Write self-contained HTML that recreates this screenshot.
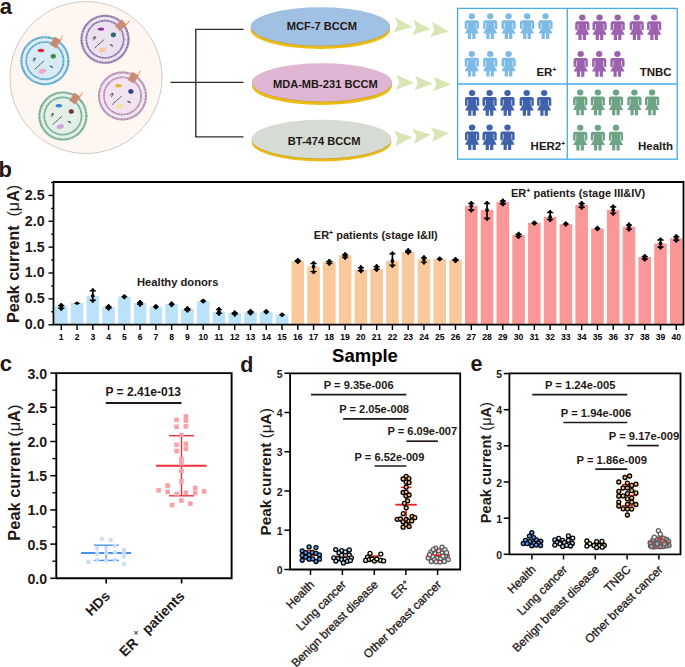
<!DOCTYPE html>
<html><head><meta charset="utf-8"><style>
html,body{margin:0;padding:0;background:#fff;}
svg{display:block;font-family:"Liberation Sans", sans-serif;}
</style></head><body>
<svg width="685" height="667" viewBox="0 0 685 667">
<rect width="685" height="667" fill="#fff"/>
<text x="-0.3" y="13.7" font-size="22" font-weight="bold" text-anchor="start" fill="#231815" >a</text>
<circle cx="86" cy="77.5" r="76" fill="#fdf6f1" stroke="#b3a7a2" stroke-width="0.6"/>
<g transform="translate(44.9,60.7)"><circle r="23.4" fill="#fbfbfb"/><circle r="21" fill="none" stroke="#bcd9e8" stroke-width="3.6" stroke-dasharray="0.5 0.7"/><circle r="23.5" fill="none" stroke="#4fa2c9" stroke-width="2.1" stroke-dasharray="1.3 0.25"/><circle r="18.5" fill="none" stroke="#4fa2c9" stroke-width="2.0" stroke-dasharray="1.3 0.25"/><circle r="17.6" fill="#d6ebf4"/><g transform="rotate(0)"><g transform="translate(10.6,-18.2) rotate(30)"><rect x="-3.7" y="-4.7" width="7.4" height="9.4" fill="#dc9e84"/><path d="M-3.7,-3 L3.7,-3 M-3.7,-1 L3.7,-1 M-3.7,1 L3.7,1 M-3.7,3 L3.7,3" stroke="#a86a56" stroke-width="0.5"/><path d="M-2,-4.7 L-2,4.7 M0,-4.7 L0,4.7 M2,-4.7 L2,4.7" stroke="#b07462" stroke-width="0.5"/></g><path d="M14.8,-20.5 q2.2,-0.3 1.8,-1.8 q-0.4,-1.2 0.8,-1.6 q0.6,-0.4 0.1,-1.2" fill="none" stroke="#ee7a3a" stroke-width="0.85"/></g><ellipse cx="-4" cy="-10.2" rx="3.3" ry="1.7" fill="#d0283c"/><path d="M5.8,-5.8 l2.6,-1.2 2.4,1.0 0.2,2.8 -2.4,1.3 -2.6,-1.0z" fill="#3a8a44"/><ellipse cx="-2.6" cy="10.6" rx="3.7" ry="2.3" fill="#f0a6c8" transform="rotate(-15 -2.6 10.6)"/><path d="M-12.5,-0.5 l2.2,-2.2 1.4,1.1 M-10.3,-2.7 l0.2,2.5 M-11.5,0.5 l1.2,-0.3" fill="none" stroke="#3a3a3a" stroke-width="0.85"/><path d="M-10.2,8.6 L-0.8,0.2" stroke="#3a3a3a" stroke-width="0.95" stroke-dasharray="1.6 0.35"/><path d="M4.8,5.2 l3.4,1.8 M6,6.2 l1.2,-0.8" stroke="#333" stroke-width="0.9"/></g>
<g transform="translate(105.0,39.3)"><circle r="23.4" fill="#fbfbfb"/><circle r="21" fill="none" stroke="#d3c6dc" stroke-width="3.6" stroke-dasharray="0.5 0.7"/><circle r="23.5" fill="none" stroke="#8a6aa6" stroke-width="2.1" stroke-dasharray="1.3 0.25"/><circle r="18.5" fill="none" stroke="#8a6aa6" stroke-width="2.0" stroke-dasharray="1.3 0.25"/><circle r="17.6" fill="#ebe1ef"/><g transform="rotate(18)"><g transform="translate(10.6,-18.2) rotate(30)"><rect x="-3.7" y="-4.7" width="7.4" height="9.4" fill="#dc9e84"/><path d="M-3.7,-3 L3.7,-3 M-3.7,-1 L3.7,-1 M-3.7,1 L3.7,1 M-3.7,3 L3.7,3" stroke="#a86a56" stroke-width="0.5"/><path d="M-2,-4.7 L-2,4.7 M0,-4.7 L0,4.7 M2,-4.7 L2,4.7" stroke="#b07462" stroke-width="0.5"/></g><path d="M14.8,-20.5 q2.2,-0.3 1.8,-1.8 q-0.4,-1.2 0.8,-1.6 q0.6,-0.4 0.1,-1.2" fill="none" stroke="#ee7a3a" stroke-width="0.85"/></g><ellipse cx="-4" cy="-10.2" rx="3.3" ry="1.7" fill="#8a3aa0"/><path d="M5.8,-5.8 l2.6,-1.2 2.4,1.0 0.2,2.8 -2.4,1.3 -2.6,-1.0z" fill="#2d6a7a"/><ellipse cx="-2.6" cy="10.6" rx="3.7" ry="2.3" fill="#f7c8a4" transform="rotate(-15 -2.6 10.6)"/><path d="M-12.5,-0.5 l2.2,-2.2 1.4,1.1 M-10.3,-2.7 l0.2,2.5 M-11.5,0.5 l1.2,-0.3" fill="none" stroke="#3a3a3a" stroke-width="0.85"/><path d="M-10.2,8.6 L-0.8,0.2" stroke="#3a3a3a" stroke-width="0.95" stroke-dasharray="1.6 0.35"/><path d="M4.8,5.2 l3.4,1.8 M6,6.2 l1.2,-0.8" stroke="#333" stroke-width="0.9"/></g>
<g transform="translate(122.5,95.9)"><circle r="23.4" fill="#fbfbfb"/><circle r="21" fill="none" stroke="#e0cce0" stroke-width="3.6" stroke-dasharray="0.5 0.7"/><circle r="23.5" fill="none" stroke="#b387b2" stroke-width="2.1" stroke-dasharray="1.3 0.25"/><circle r="18.5" fill="none" stroke="#b387b2" stroke-width="2.0" stroke-dasharray="1.3 0.25"/><circle r="17.6" fill="#f1e3ef"/><g transform="rotate(0)"><g transform="translate(10.6,-18.2) rotate(30)"><rect x="-3.7" y="-4.7" width="7.4" height="9.4" fill="#dc9e84"/><path d="M-3.7,-3 L3.7,-3 M-3.7,-1 L3.7,-1 M-3.7,1 L3.7,1 M-3.7,3 L3.7,3" stroke="#a86a56" stroke-width="0.5"/><path d="M-2,-4.7 L-2,4.7 M0,-4.7 L0,4.7 M2,-4.7 L2,4.7" stroke="#b07462" stroke-width="0.5"/></g><path d="M14.8,-20.5 q2.2,-0.3 1.8,-1.8 q-0.4,-1.2 0.8,-1.6 q0.6,-0.4 0.1,-1.2" fill="none" stroke="#ee7a3a" stroke-width="0.85"/></g><ellipse cx="-4" cy="-10.2" rx="3.3" ry="1.7" fill="#e0b830"/><path d="M5.8,-5.8 l2.6,-1.2 2.4,1.0 0.2,2.8 -2.4,1.3 -2.6,-1.0z" fill="#3a3f8a"/><ellipse cx="-2.6" cy="10.6" rx="3.7" ry="2.3" fill="#f3e39a" transform="rotate(-15 -2.6 10.6)"/><path d="M-12.5,-0.5 l2.2,-2.2 1.4,1.1 M-10.3,-2.7 l0.2,2.5 M-11.5,0.5 l1.2,-0.3" fill="none" stroke="#3a3a3a" stroke-width="0.85"/><path d="M-10.2,8.6 L-0.8,0.2" stroke="#3a3a3a" stroke-width="0.95" stroke-dasharray="1.6 0.35"/><path d="M4.8,5.2 l3.4,1.8 M6,6.2 l1.2,-0.8" stroke="#333" stroke-width="0.9"/></g>
<g transform="translate(62.9,116.0)"><circle r="23.4" fill="#fbfbfb"/><circle r="21" fill="none" stroke="#c6e0d2" stroke-width="3.6" stroke-dasharray="0.5 0.7"/><circle r="23.5" fill="none" stroke="#6aa88a" stroke-width="2.1" stroke-dasharray="1.3 0.25"/><circle r="18.5" fill="none" stroke="#6aa88a" stroke-width="2.0" stroke-dasharray="1.3 0.25"/><circle r="17.6" fill="#e2f0e8"/><g transform="rotate(4)"><g transform="translate(10.6,-18.2) rotate(30)"><rect x="-3.7" y="-4.7" width="7.4" height="9.4" fill="#dc9e84"/><path d="M-3.7,-3 L3.7,-3 M-3.7,-1 L3.7,-1 M-3.7,1 L3.7,1 M-3.7,3 L3.7,3" stroke="#a86a56" stroke-width="0.5"/><path d="M-2,-4.7 L-2,4.7 M0,-4.7 L0,4.7 M2,-4.7 L2,4.7" stroke="#b07462" stroke-width="0.5"/></g><path d="M14.8,-20.5 q2.2,-0.3 1.8,-1.8 q-0.4,-1.2 0.8,-1.6 q0.6,-0.4 0.1,-1.2" fill="none" stroke="#ee7a3a" stroke-width="0.85"/></g><ellipse cx="-4" cy="-10.2" rx="3.3" ry="1.7" fill="#3a84d0"/><path d="M5.8,-5.8 l2.6,-1.2 2.4,1.0 0.2,2.8 -2.4,1.3 -2.6,-1.0z" fill="#6a4030"/><ellipse cx="-2.6" cy="10.6" rx="3.7" ry="2.3" fill="#c8a8de" transform="rotate(-15 -2.6 10.6)"/><path d="M-12.5,-0.5 l2.2,-2.2 1.4,1.1 M-10.3,-2.7 l0.2,2.5 M-11.5,0.5 l1.2,-0.3" fill="none" stroke="#3a3a3a" stroke-width="0.85"/><path d="M-10.2,8.6 L-0.8,0.2" stroke="#3a3a3a" stroke-width="0.95" stroke-dasharray="1.6 0.35"/><path d="M4.8,5.2 l3.4,1.8 M6,6.2 l1.2,-0.8" stroke="#333" stroke-width="0.9"/></g>
<line x1="170.5" y1="82.3" x2="243.5" y2="82.3" stroke="#33272a" stroke-width="1.35" />
<line x1="195.8" y1="29.4" x2="195.8" y2="136.9" stroke="#33272a" stroke-width="1.35" />
<line x1="195.15" y1="29.4" x2="243.5" y2="29.4" stroke="#33272a" stroke-width="1.35" />
<line x1="195.15" y1="136.9" x2="243.5" y2="136.9" stroke="#33272a" stroke-width="1.35" />
<ellipse cx="320.4" cy="29.70" rx="69.7" ry="19.2" fill="#ecbc14"/>
<ellipse cx="320.4" cy="27.20" rx="69.7" ry="19.2" fill="#c9a032"/>
<ellipse cx="320.4" cy="26.5" rx="69.7" ry="19.2" fill="#a0c0e4"/>
<text x="322" y="29.8" font-size="11.1" font-weight="bold" text-anchor="middle" fill="#231815" >MCF-7 BCCM</text>
<ellipse cx="322" cy="85.85" rx="69.9" ry="19.05" fill="#ecbc14"/>
<ellipse cx="322" cy="83.05" rx="69.9" ry="19.05" fill="#c9a032"/>
<ellipse cx="322" cy="82.35" rx="69.9" ry="19.05" fill="#deb6d4"/>
<text x="325.3" y="87.6" font-size="11.1" font-weight="bold" text-anchor="middle" fill="#231815" >MDA-MB-231 BCCM</text>
<ellipse cx="321.5" cy="142.15" rx="69.8" ry="19.35" fill="#ecbc14"/>
<ellipse cx="321.5" cy="139.85" rx="69.8" ry="19.35" fill="#c9a032"/>
<ellipse cx="321.5" cy="139.15" rx="69.8" ry="19.35" fill="#d6dcd4"/>
<text x="324.1" y="144.6" font-size="11.1" font-weight="bold" text-anchor="middle" fill="#231815" >BT-474 BCCM</text>
<path d="M395.3,17.6 L412.1,26.9 L393.4,32.4 L397.5,25.3 Z" fill="#d7e6b4"/>
<path d="M413.6,19.9 L430.8,29.3 L412.1,34.8 L416.1,27.7 Z" fill="#d7e6b4"/>
<path d="M432,21.7 L449,31.6 L430.3,37.1 L434.4,29.8 Z" fill="#d7e6b4"/>
<path d="M396.7,74.9 L414.2,82.8 L395.7,89.8 L399.4,82.4 Z" fill="#d7e6b4"/>
<path d="M415.1,75.7 L432.7,83.7 L414.2,90.5 L417.9,83.2 Z" fill="#d7e6b4"/>
<path d="M433.5,76.4 L451,84.6 L432.9,91.6 L436.4,84.1 Z" fill="#d7e6b4"/>
<path d="M394.1,131.1 L412.5,136.9 L395.3,146.3 L397.9,138.4 Z" fill="#d7e6b4"/>
<path d="M412.5,129.1 L430.8,134.6 L414,144 L416.4,136.2 Z" fill="#d7e6b4"/>
<path d="M430.8,127.2 L449,132.9 L432.3,142 L434.7,134.3 Z" fill="#d7e6b4"/>
<rect x="457.6" y="8.4" width="219.6" height="150.8" fill="none" stroke="#45ace6" stroke-width="1.3"/>
<line x1="567.3" y1="8.4" x2="567.3" y2="159.2" stroke="#45ace6" stroke-width="1.3" />
<line x1="457.6" y1="84" x2="677.2" y2="84" stroke="#45ace6" stroke-width="1.3" />
<g transform="translate(471.8,16.3)" fill="#7dbbe6"><ellipse cx="0" cy="0" rx="3.2" ry="3"/><path d="M-7.1,12.4 L-7.1,6 Q-7.1,3.9 -5,3.9 L5,3.9 Q7.1,3.9 7.1,6 L7.1,12.4 Q5.85,13.2 4.6,12.4 L4.6,6.6 L4.0,6.6 L4.0,11.6 L7.1,17.3 L3.7,17.3 L3.7,22.6 L0.5,22.6 L0.5,17.3 L-0.7,17.3 L-0.7,22.6 L-3.9,22.6 L-3.9,17.3 L-7.1,17.3 L-4.0,11.6 L-4.0,6.6 L-4.6,6.6 L-4.6,12.4 Q-5.85,13.2 -7.1,12.4 Z"/></g>
<g transform="translate(490.2,16.3)" fill="#7dbbe6"><ellipse cx="0" cy="0" rx="3.2" ry="3"/><path d="M-7.1,12.4 L-7.1,6 Q-7.1,3.9 -5,3.9 L5,3.9 Q7.1,3.9 7.1,6 L7.1,12.4 Q5.85,13.2 4.6,12.4 L4.6,6.6 L4.0,6.6 L4.0,11.6 L7.1,17.3 L3.7,17.3 L3.7,22.6 L0.5,22.6 L0.5,17.3 L-0.7,17.3 L-0.7,22.6 L-3.9,22.6 L-3.9,17.3 L-7.1,17.3 L-4.0,11.6 L-4.0,6.6 L-4.6,6.6 L-4.6,12.4 Q-5.85,13.2 -7.1,12.4 Z"/></g>
<g transform="translate(508.6,16.3)" fill="#7dbbe6"><ellipse cx="0" cy="0" rx="3.2" ry="3"/><path d="M-7.1,12.4 L-7.1,6 Q-7.1,3.9 -5,3.9 L5,3.9 Q7.1,3.9 7.1,6 L7.1,12.4 Q5.85,13.2 4.6,12.4 L4.6,6.6 L4.0,6.6 L4.0,11.6 L7.1,17.3 L3.7,17.3 L3.7,22.6 L0.5,22.6 L0.5,17.3 L-0.7,17.3 L-0.7,22.6 L-3.9,22.6 L-3.9,17.3 L-7.1,17.3 L-4.0,11.6 L-4.0,6.6 L-4.6,6.6 L-4.6,12.4 Q-5.85,13.2 -7.1,12.4 Z"/></g>
<g transform="translate(527.1,16.3)" fill="#7dbbe6"><ellipse cx="0" cy="0" rx="3.2" ry="3"/><path d="M-7.1,12.4 L-7.1,6 Q-7.1,3.9 -5,3.9 L5,3.9 Q7.1,3.9 7.1,6 L7.1,12.4 Q5.85,13.2 4.6,12.4 L4.6,6.6 L4.0,6.6 L4.0,11.6 L7.1,17.3 L3.7,17.3 L3.7,22.6 L0.5,22.6 L0.5,17.3 L-0.7,17.3 L-0.7,22.6 L-3.9,22.6 L-3.9,17.3 L-7.1,17.3 L-4.0,11.6 L-4.0,6.6 L-4.6,6.6 L-4.6,12.4 Q-5.85,13.2 -7.1,12.4 Z"/></g>
<g transform="translate(545.5,16.3)" fill="#7dbbe6"><ellipse cx="0" cy="0" rx="3.2" ry="3"/><path d="M-7.1,12.4 L-7.1,6 Q-7.1,3.9 -5,3.9 L5,3.9 Q7.1,3.9 7.1,6 L7.1,12.4 Q5.85,13.2 4.6,12.4 L4.6,6.6 L4.0,6.6 L4.0,11.6 L7.1,17.3 L3.7,17.3 L3.7,22.6 L0.5,22.6 L0.5,17.3 L-0.7,17.3 L-0.7,22.6 L-3.9,22.6 L-3.9,17.3 L-7.1,17.3 L-4.0,11.6 L-4.0,6.6 L-4.6,6.6 L-4.6,12.4 Q-5.85,13.2 -7.1,12.4 Z"/></g>
<g transform="translate(471.8,53.9)" fill="#7dbbe6"><ellipse cx="0" cy="0" rx="3.2" ry="3"/><path d="M-7.1,12.4 L-7.1,6 Q-7.1,3.9 -5,3.9 L5,3.9 Q7.1,3.9 7.1,6 L7.1,12.4 Q5.85,13.2 4.6,12.4 L4.6,6.6 L4.0,6.6 L4.0,11.6 L7.1,17.3 L3.7,17.3 L3.7,22.6 L0.5,22.6 L0.5,17.3 L-0.7,17.3 L-0.7,22.6 L-3.9,22.6 L-3.9,17.3 L-7.1,17.3 L-4.0,11.6 L-4.0,6.6 L-4.6,6.6 L-4.6,12.4 Q-5.85,13.2 -7.1,12.4 Z"/></g>
<g transform="translate(490.2,53.9)" fill="#7dbbe6"><ellipse cx="0" cy="0" rx="3.2" ry="3"/><path d="M-7.1,12.4 L-7.1,6 Q-7.1,3.9 -5,3.9 L5,3.9 Q7.1,3.9 7.1,6 L7.1,12.4 Q5.85,13.2 4.6,12.4 L4.6,6.6 L4.0,6.6 L4.0,11.6 L7.1,17.3 L3.7,17.3 L3.7,22.6 L0.5,22.6 L0.5,17.3 L-0.7,17.3 L-0.7,22.6 L-3.9,22.6 L-3.9,17.3 L-7.1,17.3 L-4.0,11.6 L-4.0,6.6 L-4.6,6.6 L-4.6,12.4 Q-5.85,13.2 -7.1,12.4 Z"/></g>
<g transform="translate(508.6,53.9)" fill="#7dbbe6"><ellipse cx="0" cy="0" rx="3.2" ry="3"/><path d="M-7.1,12.4 L-7.1,6 Q-7.1,3.9 -5,3.9 L5,3.9 Q7.1,3.9 7.1,6 L7.1,12.4 Q5.85,13.2 4.6,12.4 L4.6,6.6 L4.0,6.6 L4.0,11.6 L7.1,17.3 L3.7,17.3 L3.7,22.6 L0.5,22.6 L0.5,17.3 L-0.7,17.3 L-0.7,22.6 L-3.9,22.6 L-3.9,17.3 L-7.1,17.3 L-4.0,11.6 L-4.0,6.6 L-4.6,6.6 L-4.6,12.4 Q-5.85,13.2 -7.1,12.4 Z"/></g>
<g transform="translate(582.3,17.4)" fill="#9c62ae"><ellipse cx="0" cy="0" rx="3.2" ry="3"/><path d="M-7.1,12.4 L-7.1,6 Q-7.1,3.9 -5,3.9 L5,3.9 Q7.1,3.9 7.1,6 L7.1,12.4 Q5.85,13.2 4.6,12.4 L4.6,6.6 L4.0,6.6 L4.0,11.6 L7.1,17.3 L3.7,17.3 L3.7,22.6 L0.5,22.6 L0.5,17.3 L-0.7,17.3 L-0.7,22.6 L-3.9,22.6 L-3.9,17.3 L-7.1,17.3 L-4.0,11.6 L-4.0,6.6 L-4.6,6.6 L-4.6,12.4 Q-5.85,13.2 -7.1,12.4 Z"/></g>
<g transform="translate(599.6,17.4)" fill="#9c62ae"><ellipse cx="0" cy="0" rx="3.2" ry="3"/><path d="M-7.1,12.4 L-7.1,6 Q-7.1,3.9 -5,3.9 L5,3.9 Q7.1,3.9 7.1,6 L7.1,12.4 Q5.85,13.2 4.6,12.4 L4.6,6.6 L4.0,6.6 L4.0,11.6 L7.1,17.3 L3.7,17.3 L3.7,22.6 L0.5,22.6 L0.5,17.3 L-0.7,17.3 L-0.7,22.6 L-3.9,22.6 L-3.9,17.3 L-7.1,17.3 L-4.0,11.6 L-4.0,6.6 L-4.6,6.6 L-4.6,12.4 Q-5.85,13.2 -7.1,12.4 Z"/></g>
<g transform="translate(617.7,17.4)" fill="#9c62ae"><ellipse cx="0" cy="0" rx="3.2" ry="3"/><path d="M-7.1,12.4 L-7.1,6 Q-7.1,3.9 -5,3.9 L5,3.9 Q7.1,3.9 7.1,6 L7.1,12.4 Q5.85,13.2 4.6,12.4 L4.6,6.6 L4.0,6.6 L4.0,11.6 L7.1,17.3 L3.7,17.3 L3.7,22.6 L0.5,22.6 L0.5,17.3 L-0.7,17.3 L-0.7,22.6 L-3.9,22.6 L-3.9,17.3 L-7.1,17.3 L-4.0,11.6 L-4.0,6.6 L-4.6,6.6 L-4.6,12.4 Q-5.85,13.2 -7.1,12.4 Z"/></g>
<g transform="translate(636.7,17.4)" fill="#9c62ae"><ellipse cx="0" cy="0" rx="3.2" ry="3"/><path d="M-7.1,12.4 L-7.1,6 Q-7.1,3.9 -5,3.9 L5,3.9 Q7.1,3.9 7.1,6 L7.1,12.4 Q5.85,13.2 4.6,12.4 L4.6,6.6 L4.0,6.6 L4.0,11.6 L7.1,17.3 L3.7,17.3 L3.7,22.6 L0.5,22.6 L0.5,17.3 L-0.7,17.3 L-0.7,22.6 L-3.9,22.6 L-3.9,17.3 L-7.1,17.3 L-4.0,11.6 L-4.0,6.6 L-4.6,6.6 L-4.6,12.4 Q-5.85,13.2 -7.1,12.4 Z"/></g>
<g transform="translate(654.2,17.4)" fill="#9c62ae"><ellipse cx="0" cy="0" rx="3.2" ry="3"/><path d="M-7.1,12.4 L-7.1,6 Q-7.1,3.9 -5,3.9 L5,3.9 Q7.1,3.9 7.1,6 L7.1,12.4 Q5.85,13.2 4.6,12.4 L4.6,6.6 L4.0,6.6 L4.0,11.6 L7.1,17.3 L3.7,17.3 L3.7,22.6 L0.5,22.6 L0.5,17.3 L-0.7,17.3 L-0.7,22.6 L-3.9,22.6 L-3.9,17.3 L-7.1,17.3 L-4.0,11.6 L-4.0,6.6 L-4.6,6.6 L-4.6,12.4 Q-5.85,13.2 -7.1,12.4 Z"/></g>
<g transform="translate(580.7,54.1)" fill="#9c62ae"><ellipse cx="0" cy="0" rx="3.2" ry="3"/><path d="M-7.1,12.4 L-7.1,6 Q-7.1,3.9 -5,3.9 L5,3.9 Q7.1,3.9 7.1,6 L7.1,12.4 Q5.85,13.2 4.6,12.4 L4.6,6.6 L4.0,6.6 L4.0,11.6 L7.1,17.3 L3.7,17.3 L3.7,22.6 L0.5,22.6 L0.5,17.3 L-0.7,17.3 L-0.7,22.6 L-3.9,22.6 L-3.9,17.3 L-7.1,17.3 L-4.0,11.6 L-4.0,6.6 L-4.6,6.6 L-4.6,12.4 Q-5.85,13.2 -7.1,12.4 Z"/></g>
<g transform="translate(599.2,54.1)" fill="#9c62ae"><ellipse cx="0" cy="0" rx="3.2" ry="3"/><path d="M-7.1,12.4 L-7.1,6 Q-7.1,3.9 -5,3.9 L5,3.9 Q7.1,3.9 7.1,6 L7.1,12.4 Q5.85,13.2 4.6,12.4 L4.6,6.6 L4.0,6.6 L4.0,11.6 L7.1,17.3 L3.7,17.3 L3.7,22.6 L0.5,22.6 L0.5,17.3 L-0.7,17.3 L-0.7,22.6 L-3.9,22.6 L-3.9,17.3 L-7.1,17.3 L-4.0,11.6 L-4.0,6.6 L-4.6,6.6 L-4.6,12.4 Q-5.85,13.2 -7.1,12.4 Z"/></g>
<g transform="translate(617.4,54.1)" fill="#9c62ae"><ellipse cx="0" cy="0" rx="3.2" ry="3"/><path d="M-7.1,12.4 L-7.1,6 Q-7.1,3.9 -5,3.9 L5,3.9 Q7.1,3.9 7.1,6 L7.1,12.4 Q5.85,13.2 4.6,12.4 L4.6,6.6 L4.0,6.6 L4.0,11.6 L7.1,17.3 L3.7,17.3 L3.7,22.6 L0.5,22.6 L0.5,17.3 L-0.7,17.3 L-0.7,22.6 L-3.9,22.6 L-3.9,17.3 L-7.1,17.3 L-4.0,11.6 L-4.0,6.6 L-4.6,6.6 L-4.6,12.4 Q-5.85,13.2 -7.1,12.4 Z"/></g>
<g transform="translate(472.1,93.1)" fill="#3f62ab"><ellipse cx="0" cy="0" rx="3.2" ry="3"/><path d="M-7.1,12.4 L-7.1,6 Q-7.1,3.9 -5,3.9 L5,3.9 Q7.1,3.9 7.1,6 L7.1,12.4 Q5.85,13.2 4.6,12.4 L4.6,6.6 L4.0,6.6 L4.0,11.6 L7.1,17.3 L3.7,17.3 L3.7,22.6 L0.5,22.6 L0.5,17.3 L-0.7,17.3 L-0.7,22.6 L-3.9,22.6 L-3.9,17.3 L-7.1,17.3 L-4.0,11.6 L-4.0,6.6 L-4.6,6.6 L-4.6,12.4 Q-5.85,13.2 -7.1,12.4 Z"/></g>
<g transform="translate(489.6,93.1)" fill="#3f62ab"><ellipse cx="0" cy="0" rx="3.2" ry="3"/><path d="M-7.1,12.4 L-7.1,6 Q-7.1,3.9 -5,3.9 L5,3.9 Q7.1,3.9 7.1,6 L7.1,12.4 Q5.85,13.2 4.6,12.4 L4.6,6.6 L4.0,6.6 L4.0,11.6 L7.1,17.3 L3.7,17.3 L3.7,22.6 L0.5,22.6 L0.5,17.3 L-0.7,17.3 L-0.7,22.6 L-3.9,22.6 L-3.9,17.3 L-7.1,17.3 L-4.0,11.6 L-4.0,6.6 L-4.6,6.6 L-4.6,12.4 Q-5.85,13.2 -7.1,12.4 Z"/></g>
<g transform="translate(507.5,93.1)" fill="#3f62ab"><ellipse cx="0" cy="0" rx="3.2" ry="3"/><path d="M-7.1,12.4 L-7.1,6 Q-7.1,3.9 -5,3.9 L5,3.9 Q7.1,3.9 7.1,6 L7.1,12.4 Q5.85,13.2 4.6,12.4 L4.6,6.6 L4.0,6.6 L4.0,11.6 L7.1,17.3 L3.7,17.3 L3.7,22.6 L0.5,22.6 L0.5,17.3 L-0.7,17.3 L-0.7,22.6 L-3.9,22.6 L-3.9,17.3 L-7.1,17.3 L-4.0,11.6 L-4.0,6.6 L-4.6,6.6 L-4.6,12.4 Q-5.85,13.2 -7.1,12.4 Z"/></g>
<g transform="translate(526.7,93.1)" fill="#3f62ab"><ellipse cx="0" cy="0" rx="3.2" ry="3"/><path d="M-7.1,12.4 L-7.1,6 Q-7.1,3.9 -5,3.9 L5,3.9 Q7.1,3.9 7.1,6 L7.1,12.4 Q5.85,13.2 4.6,12.4 L4.6,6.6 L4.0,6.6 L4.0,11.6 L7.1,17.3 L3.7,17.3 L3.7,22.6 L0.5,22.6 L0.5,17.3 L-0.7,17.3 L-0.7,22.6 L-3.9,22.6 L-3.9,17.3 L-7.1,17.3 L-4.0,11.6 L-4.0,6.6 L-4.6,6.6 L-4.6,12.4 Q-5.85,13.2 -7.1,12.4 Z"/></g>
<g transform="translate(544.2,93.1)" fill="#3f62ab"><ellipse cx="0" cy="0" rx="3.2" ry="3"/><path d="M-7.1,12.4 L-7.1,6 Q-7.1,3.9 -5,3.9 L5,3.9 Q7.1,3.9 7.1,6 L7.1,12.4 Q5.85,13.2 4.6,12.4 L4.6,6.6 L4.0,6.6 L4.0,11.6 L7.1,17.3 L3.7,17.3 L3.7,22.6 L0.5,22.6 L0.5,17.3 L-0.7,17.3 L-0.7,22.6 L-3.9,22.6 L-3.9,17.3 L-7.1,17.3 L-4.0,11.6 L-4.0,6.6 L-4.6,6.6 L-4.6,12.4 Q-5.85,13.2 -7.1,12.4 Z"/></g>
<g transform="translate(472.1,127.5)" fill="#3f62ab"><ellipse cx="0" cy="0" rx="3.2" ry="3"/><path d="M-7.1,12.4 L-7.1,6 Q-7.1,3.9 -5,3.9 L5,3.9 Q7.1,3.9 7.1,6 L7.1,12.4 Q5.85,13.2 4.6,12.4 L4.6,6.6 L4.0,6.6 L4.0,11.6 L7.1,17.3 L3.7,17.3 L3.7,22.6 L0.5,22.6 L0.5,17.3 L-0.7,17.3 L-0.7,22.6 L-3.9,22.6 L-3.9,17.3 L-7.1,17.3 L-4.0,11.6 L-4.0,6.6 L-4.6,6.6 L-4.6,12.4 Q-5.85,13.2 -7.1,12.4 Z"/></g>
<g transform="translate(489.6,127.5)" fill="#3f62ab"><ellipse cx="0" cy="0" rx="3.2" ry="3"/><path d="M-7.1,12.4 L-7.1,6 Q-7.1,3.9 -5,3.9 L5,3.9 Q7.1,3.9 7.1,6 L7.1,12.4 Q5.85,13.2 4.6,12.4 L4.6,6.6 L4.0,6.6 L4.0,11.6 L7.1,17.3 L3.7,17.3 L3.7,22.6 L0.5,22.6 L0.5,17.3 L-0.7,17.3 L-0.7,22.6 L-3.9,22.6 L-3.9,17.3 L-7.1,17.3 L-4.0,11.6 L-4.0,6.6 L-4.6,6.6 L-4.6,12.4 Q-5.85,13.2 -7.1,12.4 Z"/></g>
<g transform="translate(507.5,127.5)" fill="#3f62ab"><ellipse cx="0" cy="0" rx="3.2" ry="3"/><path d="M-7.1,12.4 L-7.1,6 Q-7.1,3.9 -5,3.9 L5,3.9 Q7.1,3.9 7.1,6 L7.1,12.4 Q5.85,13.2 4.6,12.4 L4.6,6.6 L4.0,6.6 L4.0,11.6 L7.1,17.3 L3.7,17.3 L3.7,22.6 L0.5,22.6 L0.5,17.3 L-0.7,17.3 L-0.7,22.6 L-3.9,22.6 L-3.9,17.3 L-7.1,17.3 L-4.0,11.6 L-4.0,6.6 L-4.6,6.6 L-4.6,12.4 Q-5.85,13.2 -7.1,12.4 Z"/></g>
<g transform="translate(580.2,92.6)" fill="#6ea386"><ellipse cx="0" cy="0" rx="3.2" ry="3"/><path d="M-7.1,12.4 L-7.1,6 Q-7.1,3.9 -5,3.9 L5,3.9 Q7.1,3.9 7.1,6 L7.1,12.4 Q5.85,13.2 4.6,12.4 L4.6,6.6 L4.0,6.6 L4.0,11.6 L7.1,17.3 L3.7,17.3 L3.7,22.6 L0.5,22.6 L0.5,17.3 L-0.7,17.3 L-0.7,22.6 L-3.9,22.6 L-3.9,17.3 L-7.1,17.3 L-4.0,11.6 L-4.0,6.6 L-4.6,6.6 L-4.6,12.4 Q-5.85,13.2 -7.1,12.4 Z"/></g>
<g transform="translate(597.9,92.6)" fill="#6ea386"><ellipse cx="0" cy="0" rx="3.2" ry="3"/><path d="M-7.1,12.4 L-7.1,6 Q-7.1,3.9 -5,3.9 L5,3.9 Q7.1,3.9 7.1,6 L7.1,12.4 Q5.85,13.2 4.6,12.4 L4.6,6.6 L4.0,6.6 L4.0,11.6 L7.1,17.3 L3.7,17.3 L3.7,22.6 L0.5,22.6 L0.5,17.3 L-0.7,17.3 L-0.7,22.6 L-3.9,22.6 L-3.9,17.3 L-7.1,17.3 L-4.0,11.6 L-4.0,6.6 L-4.6,6.6 L-4.6,12.4 Q-5.85,13.2 -7.1,12.4 Z"/></g>
<g transform="translate(616.0,92.6)" fill="#6ea386"><ellipse cx="0" cy="0" rx="3.2" ry="3"/><path d="M-7.1,12.4 L-7.1,6 Q-7.1,3.9 -5,3.9 L5,3.9 Q7.1,3.9 7.1,6 L7.1,12.4 Q5.85,13.2 4.6,12.4 L4.6,6.6 L4.0,6.6 L4.0,11.6 L7.1,17.3 L3.7,17.3 L3.7,22.6 L0.5,22.6 L0.5,17.3 L-0.7,17.3 L-0.7,22.6 L-3.9,22.6 L-3.9,17.3 L-7.1,17.3 L-4.0,11.6 L-4.0,6.6 L-4.6,6.6 L-4.6,12.4 Q-5.85,13.2 -7.1,12.4 Z"/></g>
<g transform="translate(634.4,92.6)" fill="#6ea386"><ellipse cx="0" cy="0" rx="3.2" ry="3"/><path d="M-7.1,12.4 L-7.1,6 Q-7.1,3.9 -5,3.9 L5,3.9 Q7.1,3.9 7.1,6 L7.1,12.4 Q5.85,13.2 4.6,12.4 L4.6,6.6 L4.0,6.6 L4.0,11.6 L7.1,17.3 L3.7,17.3 L3.7,22.6 L0.5,22.6 L0.5,17.3 L-0.7,17.3 L-0.7,22.6 L-3.9,22.6 L-3.9,17.3 L-7.1,17.3 L-4.0,11.6 L-4.0,6.6 L-4.6,6.6 L-4.6,12.4 Q-5.85,13.2 -7.1,12.4 Z"/></g>
<g transform="translate(652.1,92.6)" fill="#6ea386"><ellipse cx="0" cy="0" rx="3.2" ry="3"/><path d="M-7.1,12.4 L-7.1,6 Q-7.1,3.9 -5,3.9 L5,3.9 Q7.1,3.9 7.1,6 L7.1,12.4 Q5.85,13.2 4.6,12.4 L4.6,6.6 L4.0,6.6 L4.0,11.6 L7.1,17.3 L3.7,17.3 L3.7,22.6 L0.5,22.6 L0.5,17.3 L-0.7,17.3 L-0.7,22.6 L-3.9,22.6 L-3.9,17.3 L-7.1,17.3 L-4.0,11.6 L-4.0,6.6 L-4.6,6.6 L-4.6,12.4 Q-5.85,13.2 -7.1,12.4 Z"/></g>
<g transform="translate(580.2,127.8)" fill="#6ea386"><ellipse cx="0" cy="0" rx="3.2" ry="3"/><path d="M-7.1,12.4 L-7.1,6 Q-7.1,3.9 -5,3.9 L5,3.9 Q7.1,3.9 7.1,6 L7.1,12.4 Q5.85,13.2 4.6,12.4 L4.6,6.6 L4.0,6.6 L4.0,11.6 L7.1,17.3 L3.7,17.3 L3.7,22.6 L0.5,22.6 L0.5,17.3 L-0.7,17.3 L-0.7,22.6 L-3.9,22.6 L-3.9,17.3 L-7.1,17.3 L-4.0,11.6 L-4.0,6.6 L-4.6,6.6 L-4.6,12.4 Q-5.85,13.2 -7.1,12.4 Z"/></g>
<g transform="translate(597.9,127.8)" fill="#6ea386"><ellipse cx="0" cy="0" rx="3.2" ry="3"/><path d="M-7.1,12.4 L-7.1,6 Q-7.1,3.9 -5,3.9 L5,3.9 Q7.1,3.9 7.1,6 L7.1,12.4 Q5.85,13.2 4.6,12.4 L4.6,6.6 L4.0,6.6 L4.0,11.6 L7.1,17.3 L3.7,17.3 L3.7,22.6 L0.5,22.6 L0.5,17.3 L-0.7,17.3 L-0.7,22.6 L-3.9,22.6 L-3.9,17.3 L-7.1,17.3 L-4.0,11.6 L-4.0,6.6 L-4.6,6.6 L-4.6,12.4 Q-5.85,13.2 -7.1,12.4 Z"/></g>
<g transform="translate(616.0,127.8)" fill="#6ea386"><ellipse cx="0" cy="0" rx="3.2" ry="3"/><path d="M-7.1,12.4 L-7.1,6 Q-7.1,3.9 -5,3.9 L5,3.9 Q7.1,3.9 7.1,6 L7.1,12.4 Q5.85,13.2 4.6,12.4 L4.6,6.6 L4.0,6.6 L4.0,11.6 L7.1,17.3 L3.7,17.3 L3.7,22.6 L0.5,22.6 L0.5,17.3 L-0.7,17.3 L-0.7,22.6 L-3.9,22.6 L-3.9,17.3 L-7.1,17.3 L-4.0,11.6 L-4.0,6.6 L-4.6,6.6 L-4.6,12.4 Q-5.85,13.2 -7.1,12.4 Z"/></g>
<text x="536.4" y="75.6" font-size="11.5" font-weight="bold" text-anchor="start" fill="#231815" >ER<tspan font-size="6.5" dy="-3.8">+</tspan></text>
<text x="639.7" y="75.5" font-size="11.5" font-weight="bold" text-anchor="start" fill="#231815" >TNBC</text>
<text x="530.6" y="150" font-size="11.5" font-weight="bold" text-anchor="start" fill="#231815" >HER2<tspan font-size="6.5" dy="-3.8">+</tspan></text>
<text x="638" y="150" font-size="11.5" font-weight="bold" text-anchor="start" fill="#231815" >Health</text>
<text x="-1.5" y="177.3" font-size="22" font-weight="bold" text-anchor="start" fill="#231815" >b</text>
<rect x="54.95" y="306" width="12.6" height="18.70" fill="#bae3fa"/>
<rect x="70.72" y="303" width="12.6" height="21.70" fill="#bae3fa"/>
<rect x="86.49" y="295.8" width="12.6" height="28.90" fill="#bae3fa"/>
<rect x="102.26" y="307" width="12.6" height="17.70" fill="#bae3fa"/>
<rect x="118.03" y="296.7" width="12.6" height="28.00" fill="#bae3fa"/>
<rect x="133.80" y="303" width="12.6" height="21.70" fill="#bae3fa"/>
<rect x="149.57" y="306.8" width="12.6" height="17.90" fill="#bae3fa"/>
<rect x="165.34" y="303.8" width="12.6" height="20.90" fill="#bae3fa"/>
<rect x="181.11" y="308.9" width="12.6" height="15.80" fill="#bae3fa"/>
<rect x="196.88" y="301" width="12.6" height="23.70" fill="#bae3fa"/>
<rect x="212.65" y="311.8" width="12.6" height="12.90" fill="#bae3fa"/>
<rect x="228.42" y="313" width="12.6" height="11.70" fill="#bae3fa"/>
<rect x="244.19" y="312.2" width="12.6" height="12.50" fill="#bae3fa"/>
<rect x="259.96" y="312" width="12.6" height="12.70" fill="#bae3fa"/>
<rect x="275.73" y="315" width="12.6" height="9.70" fill="#bae3fa"/>
<rect x="291.50" y="261" width="12.6" height="63.70" fill="#fac99b"/>
<rect x="307.27" y="266.6" width="12.6" height="58.10" fill="#fac99b"/>
<rect x="323.04" y="261.6" width="12.6" height="63.10" fill="#fac99b"/>
<rect x="338.81" y="255.2" width="12.6" height="69.50" fill="#fac99b"/>
<rect x="354.58" y="270" width="12.6" height="54.70" fill="#fac99b"/>
<rect x="370.35" y="269" width="12.6" height="55.70" fill="#fac99b"/>
<rect x="386.12" y="261" width="12.6" height="63.70" fill="#fac99b"/>
<rect x="401.89" y="252" width="12.6" height="72.70" fill="#fac99b"/>
<rect x="417.66" y="259.3" width="12.6" height="65.40" fill="#fac99b"/>
<rect x="433.43" y="258.9" width="12.6" height="65.80" fill="#fac99b"/>
<rect x="449.20" y="259.9" width="12.6" height="64.80" fill="#fac99b"/>
<rect x="464.97" y="205.8" width="12.6" height="118.90" fill="#fc9797"/>
<rect x="480.74" y="210" width="12.6" height="114.70" fill="#fc9797"/>
<rect x="496.51" y="202" width="12.6" height="122.70" fill="#fc9797"/>
<rect x="512.28" y="234.9" width="12.6" height="89.80" fill="#fc9797"/>
<rect x="528.05" y="222.9" width="12.6" height="101.80" fill="#fc9797"/>
<rect x="543.82" y="216.9" width="12.6" height="107.80" fill="#fc9797"/>
<rect x="559.59" y="224.1" width="12.6" height="100.60" fill="#fc9797"/>
<rect x="575.36" y="204.9" width="12.6" height="119.80" fill="#fc9797"/>
<rect x="591.13" y="228.6" width="12.6" height="96.10" fill="#fc9797"/>
<rect x="606.90" y="209.9" width="12.6" height="114.80" fill="#fc9797"/>
<rect x="622.67" y="226.8" width="12.6" height="97.90" fill="#fc9797"/>
<rect x="638.44" y="257" width="12.6" height="67.70" fill="#fc9797"/>
<rect x="654.21" y="243.5" width="12.6" height="81.20" fill="#fc9797"/>
<rect x="669.98" y="238.2" width="12.6" height="86.50" fill="#fc9797"/>
<line x1="61.25" y1="303" x2="61.25" y2="310.8" stroke="#000" stroke-width="1.7"/>
<path d="M58.15,305.6 L61.25,303 L64.35,305.6 Z M58.15,308.2 L61.25,310.8 L64.35,308.2 Z" fill="#000"/>
<circle cx="61.25" cy="306" r="1.9" fill="#000"/>
<path d="M58.15,305.6 h6.2 M58.15,308.2 h6.2" stroke="#000" stroke-width="1.2"/>
<path d="M73.82,303.25 L77.02,301.40 L80.22,303.25 L77.02,305.10 Z" fill="#000"/>
<line x1="92.79" y1="288.3" x2="92.79" y2="302.7" stroke="#000" stroke-width="1.7"/>
<path d="M89.69,290.90000000000003 L92.79,288.3 L95.89,290.90000000000003 Z M89.69,300.09999999999997 L92.79,302.7 L95.89,300.09999999999997 Z" fill="#000"/>
<circle cx="92.79" cy="295.8" r="1.9" fill="#000"/>
<path d="M89.69,290.90000000000003 h6.2 M89.69,300.09999999999997 h6.2" stroke="#000" stroke-width="1.2"/>
<line x1="108.56" y1="304.2" x2="108.56" y2="310.5" stroke="#000" stroke-width="1.7"/>
<path d="M105.46,306.8 L108.56,304.2 L111.66,306.8 Z M105.46,307.9 L108.56,310.5 L111.66,307.9 Z" fill="#000"/>
<circle cx="108.56" cy="307" r="1.9" fill="#000"/>
<path d="M105.46,306.8 h6.2 M105.46,307.9 h6.2" stroke="#000" stroke-width="1.2"/>
<path d="M121.13,296.75 L124.33,293.90 L127.53,296.75 L124.33,299.60 Z" fill="#000"/>
<line x1="140.10" y1="300" x2="140.10" y2="306.7" stroke="#000" stroke-width="1.7"/>
<path d="M137.00,302.6 L140.10,300 L143.20,302.6 Z M137.00,304.09999999999997 L140.10,306.7 L143.20,304.09999999999997 Z" fill="#000"/>
<circle cx="140.10" cy="303" r="1.9" fill="#000"/>
<path d="M137.00,302.6 h6.2 M137.00,304.09999999999997 h6.2" stroke="#000" stroke-width="1.2"/>
<path d="M152.67,306.80 L155.87,303.80 L159.07,306.80 L155.87,309.80 Z" fill="#000"/>
<path d="M168.44,304.15 L171.64,300.90 L174.84,304.15 L171.64,307.40 Z" fill="#000"/>
<line x1="187.41" y1="306.2" x2="187.41" y2="312.5" stroke="#000" stroke-width="1.7"/>
<path d="M184.31,308.8 L187.41,306.2 L190.51,308.8 Z M184.31,309.9 L187.41,312.5 L190.51,309.9 Z" fill="#000"/>
<circle cx="187.41" cy="308.9" r="1.9" fill="#000"/>
<path d="M184.31,308.8 h6.2 M184.31,309.9 h6.2" stroke="#000" stroke-width="1.2"/>
<path d="M199.98,301.10 L203.18,298.40 L206.38,301.10 L203.18,303.80 Z" fill="#000"/>
<line x1="218.95" y1="307" x2="218.95" y2="315.8" stroke="#000" stroke-width="1.7"/>
<path d="M215.85,309.6 L218.95,307 L222.05,309.6 Z M215.85,313.2 L218.95,315.8 L222.05,313.2 Z" fill="#000"/>
<circle cx="218.95" cy="311.8" r="1.9" fill="#000"/>
<path d="M215.85,309.6 h6.2 M215.85,313.2 h6.2" stroke="#000" stroke-width="1.2"/>
<line x1="234.72" y1="310.4" x2="234.72" y2="316.6" stroke="#000" stroke-width="1.7"/>
<path d="M231.62,313.0 L234.72,310.4 L237.82,313.0 Z M231.62,314.0 L234.72,316.6 L237.82,314.0 Z" fill="#000"/>
<circle cx="234.72" cy="313" r="1.9" fill="#000"/>
<path d="M231.62,313.0 h6.2 M231.62,314.0 h6.2" stroke="#000" stroke-width="1.2"/>
<line x1="250.49" y1="308.9" x2="250.49" y2="315.4" stroke="#000" stroke-width="1.7"/>
<path d="M247.39,311.5 L250.49,308.9 L253.59,311.5 Z M247.39,312.79999999999995 L250.49,315.4 L253.59,312.79999999999995 Z" fill="#000"/>
<circle cx="250.49" cy="312.2" r="1.9" fill="#000"/>
<path d="M247.39,311.5 h6.2 M247.39,312.79999999999995 h6.2" stroke="#000" stroke-width="1.2"/>
<path d="M263.06,311.80 L266.26,308.80 L269.46,311.80 L266.26,314.80 Z" fill="#000"/>
<path d="M278.83,314.70 L282.03,312.20 L285.23,314.70 L282.03,317.20 Z" fill="#000"/>
<line x1="297.80" y1="258" x2="297.80" y2="264" stroke="#000" stroke-width="1.7"/>
<path d="M294.70,260.6 L297.80,258 L300.90,260.6 Z M294.70,261.4 L297.80,264 L300.90,261.4 Z" fill="#000"/>
<circle cx="297.80" cy="261" r="1.9" fill="#000"/>
<path d="M294.70,260.6 h6.2 M294.70,261.4 h6.2" stroke="#000" stroke-width="1.2"/>
<line x1="313.57" y1="261" x2="313.57" y2="274.1" stroke="#000" stroke-width="1.7"/>
<path d="M310.47,263.6 L313.57,261 L316.67,263.6 Z M310.47,271.5 L313.57,274.1 L316.67,271.5 Z" fill="#000"/>
<circle cx="313.57" cy="266.6" r="1.9" fill="#000"/>
<path d="M310.47,263.6 h6.2 M310.47,271.5 h6.2" stroke="#000" stroke-width="1.2"/>
<line x1="329.34" y1="258.9" x2="329.34" y2="265.8" stroke="#000" stroke-width="1.7"/>
<path d="M326.24,261.5 L329.34,258.9 L332.44,261.5 Z M326.24,263.2 L329.34,265.8 L332.44,263.2 Z" fill="#000"/>
<circle cx="329.34" cy="261.6" r="1.9" fill="#000"/>
<path d="M326.24,261.5 h6.2 M326.24,263.2 h6.2" stroke="#000" stroke-width="1.2"/>
<line x1="345.11" y1="252.2" x2="345.11" y2="259.8" stroke="#000" stroke-width="1.7"/>
<path d="M342.01,254.79999999999998 L345.11,252.2 L348.21,254.79999999999998 Z M342.01,257.2 L345.11,259.8 L348.21,257.2 Z" fill="#000"/>
<circle cx="345.11" cy="255.2" r="1.9" fill="#000"/>
<path d="M342.01,254.79999999999998 h6.2 M342.01,257.2 h6.2" stroke="#000" stroke-width="1.2"/>
<line x1="360.88" y1="265.3" x2="360.88" y2="273.2" stroke="#000" stroke-width="1.7"/>
<path d="M357.78,267.90000000000003 L360.88,265.3 L363.98,267.90000000000003 Z M357.78,270.59999999999997 L360.88,273.2 L363.98,270.59999999999997 Z" fill="#000"/>
<circle cx="360.88" cy="270" r="1.9" fill="#000"/>
<path d="M357.78,267.90000000000003 h6.2 M357.78,270.59999999999997 h6.2" stroke="#000" stroke-width="1.2"/>
<line x1="376.65" y1="264.2" x2="376.65" y2="271.8" stroke="#000" stroke-width="1.7"/>
<path d="M373.55,266.8 L376.65,264.2 L379.75,266.8 Z M373.55,269.2 L376.65,271.8 L379.75,269.2 Z" fill="#000"/>
<circle cx="376.65" cy="269" r="1.9" fill="#000"/>
<path d="M373.55,266.8 h6.2 M373.55,269.2 h6.2" stroke="#000" stroke-width="1.2"/>
<line x1="392.42" y1="251.4" x2="392.42" y2="267.8" stroke="#000" stroke-width="1.7"/>
<path d="M389.32,254.0 L392.42,251.4 L395.52,254.0 Z M389.32,265.2 L392.42,267.8 L395.52,265.2 Z" fill="#000"/>
<circle cx="392.42" cy="261" r="1.9" fill="#000"/>
<path d="M389.32,254.0 h6.2 M389.32,265.2 h6.2" stroke="#000" stroke-width="1.2"/>
<line x1="408.19" y1="248.2" x2="408.19" y2="254.7" stroke="#000" stroke-width="1.7"/>
<path d="M405.09,250.79999999999998 L408.19,248.2 L411.29,250.79999999999998 Z M405.09,252.1 L408.19,254.7 L411.29,252.1 Z" fill="#000"/>
<circle cx="408.19" cy="252" r="1.9" fill="#000"/>
<path d="M405.09,250.79999999999998 h6.2 M405.09,252.1 h6.2" stroke="#000" stroke-width="1.2"/>
<line x1="423.96" y1="255.2" x2="423.96" y2="264.6" stroke="#000" stroke-width="1.7"/>
<path d="M420.86,257.8 L423.96,255.2 L427.06,257.8 Z M420.86,262.0 L423.96,264.6 L427.06,262.0 Z" fill="#000"/>
<circle cx="423.96" cy="259.3" r="1.9" fill="#000"/>
<path d="M420.86,257.8 h6.2 M420.86,262.0 h6.2" stroke="#000" stroke-width="1.2"/>
<path d="M436.53,258.90 L439.73,256.20 L442.93,258.90 L439.73,261.60 Z" fill="#000"/>
<line x1="455.50" y1="257.1" x2="455.50" y2="263.1" stroke="#000" stroke-width="1.7"/>
<path d="M452.40,259.70000000000005 L455.50,257.1 L458.60,259.70000000000005 Z M452.40,260.5 L455.50,263.1 L458.60,260.5 Z" fill="#000"/>
<circle cx="455.50" cy="259.9" r="1.9" fill="#000"/>
<path d="M452.40,259.70000000000005 h6.2 M452.40,260.5 h6.2" stroke="#000" stroke-width="1.2"/>
<line x1="471.27" y1="201" x2="471.27" y2="212.4" stroke="#000" stroke-width="1.7"/>
<path d="M468.17,203.6 L471.27,201 L474.37,203.6 Z M468.17,209.8 L471.27,212.4 L474.37,209.8 Z" fill="#000"/>
<circle cx="471.27" cy="205.8" r="1.9" fill="#000"/>
<path d="M468.17,203.6 h6.2 M468.17,209.8 h6.2" stroke="#000" stroke-width="1.2"/>
<line x1="487.04" y1="201" x2="487.04" y2="220.8" stroke="#000" stroke-width="1.7"/>
<path d="M483.94,203.6 L487.04,201 L490.14,203.6 Z M483.94,218.20000000000002 L487.04,220.8 L490.14,218.20000000000002 Z" fill="#000"/>
<circle cx="487.04" cy="210" r="1.9" fill="#000"/>
<path d="M483.94,203.6 h6.2 M483.94,218.20000000000002 h6.2" stroke="#000" stroke-width="1.2"/>
<line x1="502.81" y1="198.6" x2="502.81" y2="206.3" stroke="#000" stroke-width="1.7"/>
<path d="M499.71,201.2 L502.81,198.6 L505.91,201.2 Z M499.71,203.70000000000002 L502.81,206.3 L505.91,203.70000000000002 Z" fill="#000"/>
<circle cx="502.81" cy="202" r="1.9" fill="#000"/>
<path d="M499.71,201.2 h6.2 M499.71,203.70000000000002 h6.2" stroke="#000" stroke-width="1.2"/>
<line x1="518.58" y1="231.8" x2="518.58" y2="239" stroke="#000" stroke-width="1.7"/>
<path d="M515.48,234.4 L518.58,231.8 L521.68,234.4 Z M515.48,236.4 L518.58,239 L521.68,236.4 Z" fill="#000"/>
<circle cx="518.58" cy="234.9" r="1.9" fill="#000"/>
<path d="M515.48,234.4 h6.2 M515.48,236.4 h6.2" stroke="#000" stroke-width="1.2"/>
<path d="M531.15,223.05 L534.35,220.20 L537.55,223.05 L534.35,225.90 Z" fill="#000"/>
<line x1="550.12" y1="210" x2="550.12" y2="222" stroke="#000" stroke-width="1.7"/>
<path d="M547.02,212.6 L550.12,210 L553.22,212.6 Z M547.02,219.4 L550.12,222 L553.22,219.4 Z" fill="#000"/>
<circle cx="550.12" cy="216.9" r="1.9" fill="#000"/>
<path d="M547.02,212.6 h6.2 M547.02,219.4 h6.2" stroke="#000" stroke-width="1.2"/>
<path d="M562.69,224.10 L565.89,221.10 L569.09,224.10 L565.89,227.10 Z" fill="#000"/>
<line x1="581.66" y1="201" x2="581.66" y2="209.7" stroke="#000" stroke-width="1.7"/>
<path d="M578.56,203.6 L581.66,201 L584.76,203.6 Z M578.56,207.1 L581.66,209.7 L584.76,207.1 Z" fill="#000"/>
<circle cx="581.66" cy="204.9" r="1.9" fill="#000"/>
<path d="M578.56,203.6 h6.2 M578.56,207.1 h6.2" stroke="#000" stroke-width="1.2"/>
<path d="M594.23,228.60 L597.43,225.60 L600.63,228.60 L597.43,231.60 Z" fill="#000"/>
<line x1="613.20" y1="204.5" x2="613.20" y2="215.7" stroke="#000" stroke-width="1.7"/>
<path d="M610.10,207.1 L613.20,204.5 L616.30,207.1 Z M610.10,213.1 L613.20,215.7 L616.30,213.1 Z" fill="#000"/>
<circle cx="613.20" cy="209.9" r="1.9" fill="#000"/>
<path d="M610.10,207.1 h6.2 M610.10,213.1 h6.2" stroke="#000" stroke-width="1.2"/>
<line x1="628.97" y1="222.6" x2="628.97" y2="231.6" stroke="#000" stroke-width="1.7"/>
<path d="M625.87,225.2 L628.97,222.6 L632.07,225.2 Z M625.87,229.0 L628.97,231.6 L632.07,229.0 Z" fill="#000"/>
<circle cx="628.97" cy="226.8" r="1.9" fill="#000"/>
<path d="M625.87,225.2 h6.2 M625.87,229.0 h6.2" stroke="#000" stroke-width="1.2"/>
<line x1="644.74" y1="254" x2="644.74" y2="261.5" stroke="#000" stroke-width="1.7"/>
<path d="M641.64,256.6 L644.74,254 L647.84,256.6 Z M641.64,258.9 L644.74,261.5 L647.84,258.9 Z" fill="#000"/>
<circle cx="644.74" cy="257" r="1.9" fill="#000"/>
<path d="M641.64,256.6 h6.2 M641.64,258.9 h6.2" stroke="#000" stroke-width="1.2"/>
<line x1="660.51" y1="237.5" x2="660.51" y2="249.5" stroke="#000" stroke-width="1.7"/>
<path d="M657.41,240.1 L660.51,237.5 L663.61,240.1 Z M657.41,246.9 L660.51,249.5 L663.61,246.9 Z" fill="#000"/>
<circle cx="660.51" cy="243.5" r="1.9" fill="#000"/>
<path d="M657.41,240.1 h6.2 M657.41,246.9 h6.2" stroke="#000" stroke-width="1.2"/>
<line x1="676.28" y1="234.2" x2="676.28" y2="242.7" stroke="#000" stroke-width="1.7"/>
<path d="M673.18,236.79999999999998 L676.28,234.2 L679.38,236.79999999999998 Z M673.18,240.1 L676.28,242.7 L679.38,240.1 Z" fill="#000"/>
<circle cx="676.28" cy="238.2" r="1.9" fill="#000"/>
<path d="M673.18,236.79999999999998 h6.2 M673.18,240.1 h6.2" stroke="#000" stroke-width="1.2"/>
<path d="M53.5,182 L683.5,182 L683.5,324.7 L53.5,324.7 Z" fill="none" stroke="#000" stroke-width="1.8"/>
<line x1="48.5" y1="324.7" x2="53.5" y2="324.7" stroke="#000" stroke-width="1.4" />
<text x="44.6" y="329.05" font-size="14.3" font-weight="bold" text-anchor="end" fill="#231815" >0.0</text>
<line x1="51" y1="311.77" x2="53.5" y2="311.77" stroke="#000" stroke-width="1.2" />
<line x1="48.5" y1="298.85" x2="53.5" y2="298.85" stroke="#000" stroke-width="1.4" />
<text x="44.6" y="303.2" font-size="14.3" font-weight="bold" text-anchor="end" fill="#231815" >0.5</text>
<line x1="51" y1="285.92" x2="53.5" y2="285.92" stroke="#000" stroke-width="1.2" />
<line x1="48.5" y1="273.0" x2="53.5" y2="273.0" stroke="#000" stroke-width="1.4" />
<text x="44.6" y="277.35" font-size="14.3" font-weight="bold" text-anchor="end" fill="#231815" >1.0</text>
<line x1="51" y1="260.07" x2="53.5" y2="260.07" stroke="#000" stroke-width="1.2" />
<line x1="48.5" y1="247.15" x2="53.5" y2="247.15" stroke="#000" stroke-width="1.4" />
<text x="44.6" y="251.5" font-size="14.3" font-weight="bold" text-anchor="end" fill="#231815" >1.5</text>
<line x1="51" y1="234.22" x2="53.5" y2="234.22" stroke="#000" stroke-width="1.2" />
<line x1="48.5" y1="221.3" x2="53.5" y2="221.3" stroke="#000" stroke-width="1.4" />
<text x="44.6" y="225.65" font-size="14.3" font-weight="bold" text-anchor="end" fill="#231815" >2.0</text>
<line x1="51" y1="208.38" x2="53.5" y2="208.38" stroke="#000" stroke-width="1.2" />
<line x1="48.5" y1="195.45" x2="53.5" y2="195.45" stroke="#000" stroke-width="1.4" />
<text x="44.6" y="199.8" font-size="14.3" font-weight="bold" text-anchor="end" fill="#231815" >2.5</text>
<line x1="51" y1="182.52" x2="53.5" y2="182.52" stroke="#000" stroke-width="1.2" />
<line x1="61.25" y1="324.7" x2="61.25" y2="330" stroke="#000" stroke-width="1.4" />
<text x="61.25" y="340" font-size="8.6" font-weight="bold" text-anchor="middle" fill="#000" >1</text>
<line x1="77.02" y1="324.7" x2="77.02" y2="330" stroke="#000" stroke-width="1.4" />
<text x="77.02" y="340" font-size="8.6" font-weight="bold" text-anchor="middle" fill="#000" >2</text>
<line x1="92.79" y1="324.7" x2="92.79" y2="330" stroke="#000" stroke-width="1.4" />
<text x="92.79" y="340" font-size="8.6" font-weight="bold" text-anchor="middle" fill="#000" >3</text>
<line x1="108.56" y1="324.7" x2="108.56" y2="330" stroke="#000" stroke-width="1.4" />
<text x="108.56" y="340" font-size="8.6" font-weight="bold" text-anchor="middle" fill="#000" >4</text>
<line x1="124.33" y1="324.7" x2="124.33" y2="330" stroke="#000" stroke-width="1.4" />
<text x="124.33" y="340" font-size="8.6" font-weight="bold" text-anchor="middle" fill="#000" >5</text>
<line x1="140.1" y1="324.7" x2="140.1" y2="330" stroke="#000" stroke-width="1.4" />
<text x="140.1" y="340" font-size="8.6" font-weight="bold" text-anchor="middle" fill="#000" >6</text>
<line x1="155.87" y1="324.7" x2="155.87" y2="330" stroke="#000" stroke-width="1.4" />
<text x="155.87" y="340" font-size="8.6" font-weight="bold" text-anchor="middle" fill="#000" >7</text>
<line x1="171.64" y1="324.7" x2="171.64" y2="330" stroke="#000" stroke-width="1.4" />
<text x="171.64" y="340" font-size="8.6" font-weight="bold" text-anchor="middle" fill="#000" >8</text>
<line x1="187.41" y1="324.7" x2="187.41" y2="330" stroke="#000" stroke-width="1.4" />
<text x="187.41" y="340" font-size="8.6" font-weight="bold" text-anchor="middle" fill="#000" >9</text>
<line x1="203.18" y1="324.7" x2="203.18" y2="330" stroke="#000" stroke-width="1.4" />
<text x="203.18" y="340" font-size="8.6" font-weight="bold" text-anchor="middle" fill="#000" >10</text>
<line x1="218.95" y1="324.7" x2="218.95" y2="330" stroke="#000" stroke-width="1.4" />
<text x="218.95" y="340" font-size="8.6" font-weight="bold" text-anchor="middle" fill="#000" >11</text>
<line x1="234.72" y1="324.7" x2="234.72" y2="330" stroke="#000" stroke-width="1.4" />
<text x="234.72" y="340" font-size="8.6" font-weight="bold" text-anchor="middle" fill="#000" >12</text>
<line x1="250.49" y1="324.7" x2="250.49" y2="330" stroke="#000" stroke-width="1.4" />
<text x="250.49" y="340" font-size="8.6" font-weight="bold" text-anchor="middle" fill="#000" >13</text>
<line x1="266.26" y1="324.7" x2="266.26" y2="330" stroke="#000" stroke-width="1.4" />
<text x="266.26" y="340" font-size="8.6" font-weight="bold" text-anchor="middle" fill="#000" >14</text>
<line x1="282.03" y1="324.7" x2="282.03" y2="330" stroke="#000" stroke-width="1.4" />
<text x="282.03" y="340" font-size="8.6" font-weight="bold" text-anchor="middle" fill="#000" >15</text>
<line x1="297.8" y1="324.7" x2="297.8" y2="330" stroke="#000" stroke-width="1.4" />
<text x="297.8" y="340" font-size="8.6" font-weight="bold" text-anchor="middle" fill="#000" >16</text>
<line x1="313.57" y1="324.7" x2="313.57" y2="330" stroke="#000" stroke-width="1.4" />
<text x="313.57" y="340" font-size="8.6" font-weight="bold" text-anchor="middle" fill="#000" >17</text>
<line x1="329.34" y1="324.7" x2="329.34" y2="330" stroke="#000" stroke-width="1.4" />
<text x="329.34" y="340" font-size="8.6" font-weight="bold" text-anchor="middle" fill="#000" >18</text>
<line x1="345.11" y1="324.7" x2="345.11" y2="330" stroke="#000" stroke-width="1.4" />
<text x="345.11" y="340" font-size="8.6" font-weight="bold" text-anchor="middle" fill="#000" >19</text>
<line x1="360.88" y1="324.7" x2="360.88" y2="330" stroke="#000" stroke-width="1.4" />
<text x="360.88" y="340" font-size="8.6" font-weight="bold" text-anchor="middle" fill="#000" >20</text>
<line x1="376.65" y1="324.7" x2="376.65" y2="330" stroke="#000" stroke-width="1.4" />
<text x="376.65" y="340" font-size="8.6" font-weight="bold" text-anchor="middle" fill="#000" >21</text>
<line x1="392.42" y1="324.7" x2="392.42" y2="330" stroke="#000" stroke-width="1.4" />
<text x="392.42" y="340" font-size="8.6" font-weight="bold" text-anchor="middle" fill="#000" >22</text>
<line x1="408.19" y1="324.7" x2="408.19" y2="330" stroke="#000" stroke-width="1.4" />
<text x="408.19" y="340" font-size="8.6" font-weight="bold" text-anchor="middle" fill="#000" >23</text>
<line x1="423.96" y1="324.7" x2="423.96" y2="330" stroke="#000" stroke-width="1.4" />
<text x="423.96" y="340" font-size="8.6" font-weight="bold" text-anchor="middle" fill="#000" >24</text>
<line x1="439.73" y1="324.7" x2="439.73" y2="330" stroke="#000" stroke-width="1.4" />
<text x="439.73" y="340" font-size="8.6" font-weight="bold" text-anchor="middle" fill="#000" >25</text>
<line x1="455.5" y1="324.7" x2="455.5" y2="330" stroke="#000" stroke-width="1.4" />
<text x="455.5" y="340" font-size="8.6" font-weight="bold" text-anchor="middle" fill="#000" >26</text>
<line x1="471.27" y1="324.7" x2="471.27" y2="330" stroke="#000" stroke-width="1.4" />
<text x="471.27" y="340" font-size="8.6" font-weight="bold" text-anchor="middle" fill="#000" >27</text>
<line x1="487.04" y1="324.7" x2="487.04" y2="330" stroke="#000" stroke-width="1.4" />
<text x="487.04" y="340" font-size="8.6" font-weight="bold" text-anchor="middle" fill="#000" >28</text>
<line x1="502.81" y1="324.7" x2="502.81" y2="330" stroke="#000" stroke-width="1.4" />
<text x="502.81" y="340" font-size="8.6" font-weight="bold" text-anchor="middle" fill="#000" >29</text>
<line x1="518.58" y1="324.7" x2="518.58" y2="330" stroke="#000" stroke-width="1.4" />
<text x="518.58" y="340" font-size="8.6" font-weight="bold" text-anchor="middle" fill="#000" >30</text>
<line x1="534.35" y1="324.7" x2="534.35" y2="330" stroke="#000" stroke-width="1.4" />
<text x="534.35" y="340" font-size="8.6" font-weight="bold" text-anchor="middle" fill="#000" >31</text>
<line x1="550.12" y1="324.7" x2="550.12" y2="330" stroke="#000" stroke-width="1.4" />
<text x="550.12" y="340" font-size="8.6" font-weight="bold" text-anchor="middle" fill="#000" >32</text>
<line x1="565.89" y1="324.7" x2="565.89" y2="330" stroke="#000" stroke-width="1.4" />
<text x="565.89" y="340" font-size="8.6" font-weight="bold" text-anchor="middle" fill="#000" >33</text>
<line x1="581.66" y1="324.7" x2="581.66" y2="330" stroke="#000" stroke-width="1.4" />
<text x="581.66" y="340" font-size="8.6" font-weight="bold" text-anchor="middle" fill="#000" >34</text>
<line x1="597.43" y1="324.7" x2="597.43" y2="330" stroke="#000" stroke-width="1.4" />
<text x="597.43" y="340" font-size="8.6" font-weight="bold" text-anchor="middle" fill="#000" >35</text>
<line x1="613.2" y1="324.7" x2="613.2" y2="330" stroke="#000" stroke-width="1.4" />
<text x="613.2" y="340" font-size="8.6" font-weight="bold" text-anchor="middle" fill="#000" >36</text>
<line x1="628.97" y1="324.7" x2="628.97" y2="330" stroke="#000" stroke-width="1.4" />
<text x="628.97" y="340" font-size="8.6" font-weight="bold" text-anchor="middle" fill="#000" >37</text>
<line x1="644.74" y1="324.7" x2="644.74" y2="330" stroke="#000" stroke-width="1.4" />
<text x="644.74" y="340" font-size="8.6" font-weight="bold" text-anchor="middle" fill="#000" >38</text>
<line x1="660.51" y1="324.7" x2="660.51" y2="330" stroke="#000" stroke-width="1.4" />
<text x="660.51" y="340" font-size="8.6" font-weight="bold" text-anchor="middle" fill="#000" >39</text>
<line x1="676.28" y1="324.7" x2="676.28" y2="330" stroke="#000" stroke-width="1.4" />
<text x="676.28" y="340" font-size="8.6" font-weight="bold" text-anchor="middle" fill="#000" >40</text>
<text x="365" y="362" font-size="18.5" font-weight="bold" text-anchor="middle" fill="#000" >Sample</text>
<text transform="translate(18.8,253.9) rotate(-90)" font-size="16.1" font-weight="bold" text-anchor="middle" fill="#231815">Peak current&#160; <tspan font-weight="normal">(μ</tspan>A<tspan font-weight="normal">)</tspan></text>
<text x="137" y="286.4" font-size="11.2" font-weight="bold" text-anchor="start" fill="#231815" >Healthy donors</text>
<text x="313.8" y="238.8" font-size="11" font-weight="bold" text-anchor="start" fill="#231815" >ER<tspan font-size="7" dy="-4">+</tspan><tspan dy="4"> patients (stage I&amp;II)</tspan></text>
<text x="511" y="196.8" font-size="11" font-weight="bold" text-anchor="start" fill="#231815" >ER<tspan font-size="7" dy="-4">+</tspan><tspan dy="4"> patients (stage III&amp;IV)</tspan></text>
<text x="-0.3" y="371.3" font-size="22" font-weight="bold" text-anchor="start" fill="#231815" >c</text>
<path d="M56.3,373.1 L231.6,373.1 L231.6,578.3 L56.3,578.3 Z" fill="none" stroke="#000" stroke-width="1.9"/>
<line x1="50.3" y1="578.3" x2="56.3" y2="578.3" stroke="#000" stroke-width="1.5" />
<text x="47.2" y="583.8" font-size="14.2" font-weight="bold" text-anchor="end" fill="#231815" >0.0</text>
<line x1="52.3" y1="561.2" x2="56.3" y2="561.2" stroke="#000" stroke-width="1.3" />
<line x1="50.3" y1="544.1" x2="56.3" y2="544.1" stroke="#000" stroke-width="1.5" />
<text x="47.2" y="549.6" font-size="14.2" font-weight="bold" text-anchor="end" fill="#231815" >0.5</text>
<line x1="52.3" y1="527.0" x2="56.3" y2="527.0" stroke="#000" stroke-width="1.3" />
<line x1="50.3" y1="509.9" x2="56.3" y2="509.9" stroke="#000" stroke-width="1.5" />
<text x="47.2" y="515.4" font-size="14.2" font-weight="bold" text-anchor="end" fill="#231815" >1.0</text>
<line x1="52.3" y1="492.8" x2="56.3" y2="492.8" stroke="#000" stroke-width="1.3" />
<line x1="50.3" y1="475.7" x2="56.3" y2="475.7" stroke="#000" stroke-width="1.5" />
<text x="47.2" y="481.2" font-size="14.2" font-weight="bold" text-anchor="end" fill="#231815" >1.5</text>
<line x1="52.3" y1="458.6" x2="56.3" y2="458.6" stroke="#000" stroke-width="1.3" />
<line x1="50.3" y1="441.5" x2="56.3" y2="441.5" stroke="#000" stroke-width="1.5" />
<text x="47.2" y="447.0" font-size="14.2" font-weight="bold" text-anchor="end" fill="#231815" >2.0</text>
<line x1="52.3" y1="424.4" x2="56.3" y2="424.4" stroke="#000" stroke-width="1.3" />
<line x1="50.3" y1="407.3" x2="56.3" y2="407.3" stroke="#000" stroke-width="1.5" />
<text x="47.2" y="412.8" font-size="14.2" font-weight="bold" text-anchor="end" fill="#231815" >2.5</text>
<line x1="52.3" y1="390.2" x2="56.3" y2="390.2" stroke="#000" stroke-width="1.3" />
<line x1="50.3" y1="373.1" x2="56.3" y2="373.1" stroke="#000" stroke-width="1.5" />
<text x="47.2" y="378.6" font-size="14.2" font-weight="bold" text-anchor="end" fill="#231815" >3.0</text>
<line x1="106.2" y1="578.3" x2="106.2" y2="583.5" stroke="#000" stroke-width="1.6" />
<line x1="181.6" y1="578.3" x2="181.6" y2="583.5" stroke="#000" stroke-width="1.6" />
<text transform="translate(19.9,472.6) rotate(-90)" font-size="16.4" font-weight="bold" text-anchor="middle" fill="#231815">Peak current <tspan font-weight="normal">(μ</tspan>A<tspan font-weight="normal">)</tspan></text>
<text x="105.5" y="396.2" font-size="12" font-weight="bold" text-anchor="start" fill="#231815" >P = 2.41e-013</text>
<line x1="105.8" y1="403" x2="181.5" y2="403" stroke="#231815" stroke-width="1.8" />
<line x1="81.1" y1="553" x2="131.1" y2="553" stroke="#4a8ef0" stroke-width="1.9" />
<line x1="93.9" y1="545.2" x2="118.9" y2="545.2" stroke="#4a8ef0" stroke-width="1.4" />
<line x1="93.9" y1="560.4" x2="118.9" y2="560.4" stroke="#4a8ef0" stroke-width="1.4" />
<line x1="106.2" y1="545.2" x2="106.2" y2="560.4" stroke="#4a8ef0" stroke-width="1.3" />
<circle cx="101.8" cy="538.7" r="2.2" fill="#c9ddf6"/>
<circle cx="110.7" cy="540.1" r="2.2" fill="#c9ddf6"/>
<circle cx="114.9" cy="545.7" r="2.2" fill="#c9ddf6"/>
<circle cx="97.2" cy="548.5" r="2.2" fill="#c9ddf6"/>
<circle cx="106.2" cy="548.5" r="2.2" fill="#c9ddf6"/>
<circle cx="123.8" cy="549.6" r="2.2" fill="#c9ddf6"/>
<circle cx="97.2" cy="553.8" r="2.2" fill="#c9ddf6"/>
<circle cx="106.2" cy="553.4" r="2.2" fill="#c9ddf6"/>
<circle cx="114.9" cy="552.3" r="2.2" fill="#c9ddf6"/>
<circle cx="123.8" cy="553" r="2.2" fill="#c9ddf6"/>
<circle cx="123.8" cy="556.5" r="2.2" fill="#c9ddf6"/>
<circle cx="97.2" cy="559.7" r="2.2" fill="#c9ddf6"/>
<circle cx="106.2" cy="560.4" r="2.2" fill="#c9ddf6"/>
<circle cx="114.9" cy="559.9" r="2.2" fill="#c9ddf6"/>
<circle cx="88.4" cy="562" r="2.2" fill="#c9ddf6"/>
<circle cx="123.8" cy="563.9" r="2.2" fill="#c9ddf6"/>
<line x1="156.1" y1="465.8" x2="206.6" y2="465.8" stroke="#f2303c" stroke-width="1.9" />
<line x1="169" y1="435.7" x2="194" y2="435.7" stroke="#f2303c" stroke-width="1.4" />
<line x1="169" y1="495.8" x2="194" y2="495.8" stroke="#f2303c" stroke-width="1.4" />
<line x1="181.5" y1="435.7" x2="181.5" y2="495.8" stroke="#f2303c" stroke-width="1.4" />
<rect x="174.3" y="417.5" width="4.6" height="4.6" fill="#fba0a5"/>
<rect x="183.6" y="414.2" width="4.6" height="4.6" fill="#fba0a5"/>
<rect x="183.6" y="418.3" width="4.6" height="4.6" fill="#fba0a5"/>
<rect x="183.6" y="424.1" width="4.6" height="4.6" fill="#fba0a5"/>
<rect x="174.3" y="424.5" width="4.6" height="4.6" fill="#fba0a5"/>
<rect x="179.1" y="432.9" width="4.6" height="4.6" fill="#fba0a5"/>
<rect x="174.3" y="442.5" width="4.6" height="4.6" fill="#fba0a5"/>
<rect x="183.6" y="441.5" width="4.6" height="4.6" fill="#fba0a5"/>
<rect x="174.3" y="448.7" width="4.6" height="4.6" fill="#fba0a5"/>
<rect x="183.6" y="446.4" width="4.6" height="4.6" fill="#fba0a5"/>
<rect x="179.1" y="456.9" width="4.6" height="4.6" fill="#fba0a5"/>
<rect x="179.1" y="461.1" width="4.6" height="4.6" fill="#fba0a5"/>
<rect x="179.1" y="468.5" width="4.6" height="4.6" fill="#fba0a5"/>
<rect x="179.1" y="479.1" width="4.6" height="4.6" fill="#fba0a5"/>
<rect x="165.3" y="483.3" width="4.6" height="4.6" fill="#fba0a5"/>
<rect x="156.3" y="488.1" width="4.6" height="4.6" fill="#fba0a5"/>
<rect x="165.3" y="489.5" width="4.6" height="4.6" fill="#fba0a5"/>
<rect x="174.3" y="491.7" width="4.6" height="4.6" fill="#fba0a5"/>
<rect x="183.6" y="490.5" width="4.6" height="4.6" fill="#fba0a5"/>
<rect x="192.9" y="485.7" width="4.6" height="4.6" fill="#fba0a5"/>
<rect x="192.9" y="490.7" width="4.6" height="4.6" fill="#fba0a5"/>
<rect x="201.8" y="489.0" width="4.6" height="4.6" fill="#fba0a5"/>
<rect x="179.1" y="498.3" width="4.6" height="4.6" fill="#fba0a5"/>
<rect x="169.8" y="502.7" width="4.6" height="4.6" fill="#fba0a5"/>
<rect x="188.1" y="501.3" width="4.6" height="4.6" fill="#fba0a5"/>
<text transform="translate(111,597) rotate(-45)" font-size="14" font-weight="bold" text-anchor="end" fill="#231815">HDs</text>
<text transform="translate(185.6,597) rotate(-45)" font-size="14" font-weight="bold" text-anchor="end" fill="#231815">ER<tspan font-size="10" font-weight="normal" dy="-6.5"> +</tspan><tspan dy="6.5">  patients</tspan></text>
<text x="240.3" y="371.9" font-size="21.5" font-weight="bold" text-anchor="start" fill="#231815" >d</text>
<path d="M290.1,373.3 L460.2,373.3 L460.2,569.5 L290.1,569.5 Z" fill="none" stroke="#000" stroke-width="1.8"/>
<line x1="284.4" y1="569.5" x2="290.1" y2="569.5" stroke="#000" stroke-width="1.5" />
<text x="282.6" y="574.0" font-size="10.5" font-weight="bold" text-anchor="end" fill="#231815" >0</text>
<line x1="284.4" y1="530.25" x2="290.1" y2="530.25" stroke="#000" stroke-width="1.5" />
<text x="282.6" y="534.75" font-size="10.5" font-weight="bold" text-anchor="end" fill="#231815" >1</text>
<line x1="284.4" y1="491.0" x2="290.1" y2="491.0" stroke="#000" stroke-width="1.5" />
<text x="282.6" y="495.5" font-size="10.5" font-weight="bold" text-anchor="end" fill="#231815" >2</text>
<line x1="284.4" y1="451.75" x2="290.1" y2="451.75" stroke="#000" stroke-width="1.5" />
<text x="282.6" y="456.25" font-size="10.5" font-weight="bold" text-anchor="end" fill="#231815" >3</text>
<line x1="284.4" y1="412.5" x2="290.1" y2="412.5" stroke="#000" stroke-width="1.5" />
<text x="282.6" y="417.0" font-size="10.5" font-weight="bold" text-anchor="end" fill="#231815" >4</text>
<line x1="284.4" y1="373.25" x2="290.1" y2="373.25" stroke="#000" stroke-width="1.5" />
<text x="282.6" y="377.75" font-size="10.5" font-weight="bold" text-anchor="end" fill="#231815" >5</text>
<text transform="translate(271,471.9) rotate(-90)" font-size="15.35" font-weight="bold" text-anchor="middle" fill="#231815">Peak current <tspan font-weight="normal">(μ</tspan>A<tspan font-weight="normal">)</tspan></text>
<line x1="310.5" y1="569.5" x2="310.5" y2="575" stroke="#000" stroke-width="1.5" />
<line x1="342.4" y1="569.5" x2="342.4" y2="575" stroke="#000" stroke-width="1.5" />
<line x1="374.3" y1="569.5" x2="374.3" y2="575" stroke="#000" stroke-width="1.5" />
<line x1="405.9" y1="569.5" x2="405.9" y2="575" stroke="#000" stroke-width="1.5" />
<line x1="437.6" y1="569.5" x2="437.6" y2="575" stroke="#000" stroke-width="1.5" />
<text x="323.8" y="389.29999999999995" font-size="11.1" font-weight="bold" text-anchor="start" fill="#231815" >P = 9.35e-006</text>
<text x="339.2" y="412.7" font-size="11.1" font-weight="bold" text-anchor="start" fill="#231815" >P = 2.05e-008</text>
<text x="387.4" y="435.2" font-size="11.1" font-weight="bold" text-anchor="start" fill="#231815" >P = 6.09e-007</text>
<text x="354.6" y="460.59999999999997" font-size="11.1" font-weight="bold" text-anchor="start" fill="#231815" >P = 6.52e-009</text>
<line x1="311" y1="394.7" x2="406.4" y2="394.7" stroke="#231815" stroke-width="1.7" />
<line x1="343.1" y1="418.8" x2="406.4" y2="418.8" stroke="#231815" stroke-width="1.7" />
<line x1="406.4" y1="441.2" x2="437.9" y2="441.2" stroke="#231815" stroke-width="1.7" />
<line x1="374.6" y1="466" x2="406.4" y2="466" stroke="#231815" stroke-width="1.7" />
<line x1="304" y1="555.4" x2="316" y2="555.4" stroke="#f21c1c" stroke-width="1.5" />
<line x1="306" y1="550.7" x2="313" y2="550.7" stroke="#f21c1c" stroke-width="1.5" />
<line x1="336" y1="556.4" x2="347" y2="556.4" stroke="#f21c1c" stroke-width="1.5" />
<line x1="370.3" y1="556.2" x2="378.7" y2="556.2" stroke="#f21c1c" stroke-width="1.5" />
<line x1="427.1" y1="555.2" x2="449" y2="555.2" stroke="#f21c1c" stroke-width="1.5" />
<circle cx="309.1" cy="546.9" r="2.0" fill="#4fa0f5" stroke="#000" stroke-width="1.3"/>
<circle cx="316" cy="547.6" r="2.0" fill="#4fa0f5" stroke="#000" stroke-width="1.3"/>
<circle cx="302.2" cy="550.8" r="2.0" fill="#4fa0f5" stroke="#000" stroke-width="1.3"/>
<circle cx="305.7" cy="552.6" r="2.0" fill="#4fa0f5" stroke="#000" stroke-width="1.3"/>
<circle cx="312.3" cy="552.4" r="2.0" fill="#4fa0f5" stroke="#000" stroke-width="1.3"/>
<circle cx="316" cy="553.3" r="2.0" fill="#4fa0f5" stroke="#000" stroke-width="1.3"/>
<circle cx="319.5" cy="554.9" r="2.0" fill="#4fa0f5" stroke="#000" stroke-width="1.3"/>
<circle cx="302.2" cy="555.4" r="2.0" fill="#4fa0f5" stroke="#000" stroke-width="1.3"/>
<circle cx="309.1" cy="555" r="2.0" fill="#4fa0f5" stroke="#000" stroke-width="1.3"/>
<circle cx="305.7" cy="557.1" r="2.0" fill="#4fa0f5" stroke="#000" stroke-width="1.3"/>
<circle cx="302.2" cy="560.3" r="2.0" fill="#4fa0f5" stroke="#000" stroke-width="1.3"/>
<circle cx="309.1" cy="559.2" r="2.0" fill="#4fa0f5" stroke="#000" stroke-width="1.3"/>
<circle cx="312.7" cy="558.9" r="2.0" fill="#4fa0f5" stroke="#000" stroke-width="1.3"/>
<circle cx="316" cy="561.5" r="2.0" fill="#4fa0f5" stroke="#000" stroke-width="1.3"/>
<circle cx="319.5" cy="559.2" r="2.0" fill="#4fa0f5" stroke="#000" stroke-width="1.3"/>
<circle cx="335.7" cy="549.6" r="2.0" fill="#c8def5" stroke="#000" stroke-width="1.3"/>
<circle cx="341.6" cy="550.7" r="2.0" fill="#c8def5" stroke="#000" stroke-width="1.3"/>
<circle cx="345.3" cy="551.9" r="2.0" fill="#c8def5" stroke="#000" stroke-width="1.3"/>
<circle cx="349.3" cy="549.9" r="2.0" fill="#c8def5" stroke="#000" stroke-width="1.3"/>
<circle cx="339" cy="552.9" r="2.0" fill="#c8def5" stroke="#000" stroke-width="1.3"/>
<circle cx="341.6" cy="555.4" r="2.0" fill="#c8def5" stroke="#000" stroke-width="1.3"/>
<circle cx="349.3" cy="555" r="2.0" fill="#c8def5" stroke="#000" stroke-width="1.3"/>
<circle cx="333.8" cy="557.8" r="2.0" fill="#c8def5" stroke="#000" stroke-width="1.3"/>
<circle cx="351.4" cy="557.8" r="2.0" fill="#c8def5" stroke="#000" stroke-width="1.3"/>
<circle cx="337.8" cy="558.7" r="2.0" fill="#c8def5" stroke="#000" stroke-width="1.3"/>
<circle cx="341.6" cy="559.6" r="2.0" fill="#c8def5" stroke="#000" stroke-width="1.3"/>
<circle cx="345.3" cy="559.2" r="2.0" fill="#c8def5" stroke="#000" stroke-width="1.3"/>
<circle cx="335.9" cy="561" r="2.0" fill="#c8def5" stroke="#000" stroke-width="1.3"/>
<circle cx="347.4" cy="561.3" r="2.0" fill="#c8def5" stroke="#000" stroke-width="1.3"/>
<circle cx="343.4" cy="562.9" r="2.0" fill="#c8def5" stroke="#000" stroke-width="1.3"/>
<circle cx="350.4" cy="560.6" r="2.0" fill="#c8def5" stroke="#000" stroke-width="1.3"/>
<circle cx="370" cy="553.4" r="2.0" fill="#f5f1cf" stroke="#000" stroke-width="1.3"/>
<circle cx="380.8" cy="554.1" r="2.0" fill="#f5f1cf" stroke="#000" stroke-width="1.3"/>
<circle cx="367.5" cy="557.1" r="2.0" fill="#f5f1cf" stroke="#000" stroke-width="1.3"/>
<circle cx="365.6" cy="560.4" r="2.0" fill="#f5f1cf" stroke="#000" stroke-width="1.3"/>
<circle cx="369.3" cy="559.5" r="2.0" fill="#f5f1cf" stroke="#000" stroke-width="1.3"/>
<circle cx="372.1" cy="559" r="2.0" fill="#f5f1cf" stroke="#000" stroke-width="1.3"/>
<circle cx="374.5" cy="561.1" r="2.0" fill="#f5f1cf" stroke="#000" stroke-width="1.3"/>
<circle cx="376.8" cy="559" r="2.0" fill="#f5f1cf" stroke="#000" stroke-width="1.3"/>
<circle cx="380.6" cy="560.4" r="2.0" fill="#f5f1cf" stroke="#000" stroke-width="1.3"/>
<circle cx="383.6" cy="560.9" r="2.0" fill="#f5f1cf" stroke="#000" stroke-width="1.3"/>
<line x1="406.2" y1="487.4" x2="406.2" y2="522" stroke="#f21c1c" stroke-width="1.5" />
<line x1="395.4" y1="504.7" x2="416.8" y2="504.7" stroke="#f21c1c" stroke-width="1.8" />
<line x1="400.8" y1="487.4" x2="411.6" y2="487.4" stroke="#f21c1c" stroke-width="1.5" />
<circle cx="406.2" cy="476.3" r="2.0" fill="#f6b872" stroke="#000" stroke-width="1.3"/>
<circle cx="403.1" cy="479" r="2.0" fill="#f6b872" stroke="#000" stroke-width="1.3"/>
<circle cx="408.9" cy="478.6" r="2.0" fill="#f6b872" stroke="#000" stroke-width="1.3"/>
<circle cx="406.2" cy="482.2" r="2.0" fill="#f6b872" stroke="#000" stroke-width="1.3"/>
<circle cx="409.1" cy="482.6" r="2.0" fill="#f6b872" stroke="#000" stroke-width="1.3"/>
<circle cx="406.2" cy="487.1" r="2.0" fill="#f6b872" stroke="#000" stroke-width="1.3"/>
<circle cx="403.1" cy="492.5" r="2.0" fill="#f6b872" stroke="#000" stroke-width="1.3"/>
<circle cx="406.2" cy="492.1" r="2.0" fill="#f6b872" stroke="#000" stroke-width="1.3"/>
<circle cx="406" cy="496.1" r="2.0" fill="#f6b872" stroke="#000" stroke-width="1.3"/>
<circle cx="409.1" cy="495" r="2.0" fill="#f6b872" stroke="#000" stroke-width="1.3"/>
<circle cx="407.6" cy="500.8" r="2.0" fill="#f6b872" stroke="#000" stroke-width="1.3"/>
<circle cx="404.4" cy="503.3" r="2.0" fill="#f6b872" stroke="#000" stroke-width="1.3"/>
<circle cx="406.2" cy="507.8" r="2.0" fill="#f6b872" stroke="#000" stroke-width="1.3"/>
<circle cx="403.3" cy="513.7" r="2.0" fill="#f6b872" stroke="#000" stroke-width="1.3"/>
<circle cx="412.1" cy="516.4" r="2.0" fill="#f6b872" stroke="#000" stroke-width="1.3"/>
<circle cx="414.8" cy="517.7" r="2.0" fill="#f6b872" stroke="#000" stroke-width="1.3"/>
<circle cx="397.2" cy="519.3" r="2.0" fill="#f6b872" stroke="#000" stroke-width="1.3"/>
<circle cx="400.4" cy="519" r="2.0" fill="#f6b872" stroke="#000" stroke-width="1.3"/>
<circle cx="406.2" cy="519.5" r="2.0" fill="#f6b872" stroke="#000" stroke-width="1.3"/>
<circle cx="403.1" cy="521.8" r="2.0" fill="#f6b872" stroke="#000" stroke-width="1.3"/>
<circle cx="408.9" cy="521.1" r="2.0" fill="#f6b872" stroke="#000" stroke-width="1.3"/>
<circle cx="411.6" cy="520.9" r="2.0" fill="#f6b872" stroke="#000" stroke-width="1.3"/>
<circle cx="406" cy="524.5" r="2.0" fill="#f6b872" stroke="#000" stroke-width="1.3"/>
<circle cx="403.1" cy="527.2" r="2.0" fill="#f6b872" stroke="#000" stroke-width="1.3"/>
<circle cx="409.1" cy="526.5" r="2.0" fill="#f6b872" stroke="#000" stroke-width="1.3"/>
<circle cx="435.6" cy="548.2" r="2.1" fill="#e6e6e6" stroke="#5a5a5a" stroke-width="1.25"/>
<circle cx="442.1" cy="547.2" r="2.1" fill="#e6e6e6" stroke="#5a5a5a" stroke-width="1.25"/>
<circle cx="430.9" cy="552.1" r="2.1" fill="#e6e6e6" stroke="#5a5a5a" stroke-width="1.25"/>
<circle cx="435.1" cy="553.6" r="2.1" fill="#e6e6e6" stroke="#5a5a5a" stroke-width="1.25"/>
<circle cx="442.1" cy="553.3" r="2.1" fill="#e6e6e6" stroke="#5a5a5a" stroke-width="1.25"/>
<circle cx="444.9" cy="549.8" r="2.1" fill="#e6e6e6" stroke="#5a5a5a" stroke-width="1.25"/>
<circle cx="447.2" cy="556.4" r="2.1" fill="#e6e6e6" stroke="#5a5a5a" stroke-width="1.25"/>
<circle cx="428.3" cy="558" r="2.1" fill="#e6e6e6" stroke="#5a5a5a" stroke-width="1.25"/>
<circle cx="432.7" cy="556.8" r="2.1" fill="#e6e6e6" stroke="#5a5a5a" stroke-width="1.25"/>
<circle cx="437.4" cy="557.8" r="2.1" fill="#e6e6e6" stroke="#5a5a5a" stroke-width="1.25"/>
<circle cx="431.3" cy="561.5" r="2.1" fill="#e6e6e6" stroke="#5a5a5a" stroke-width="1.25"/>
<circle cx="440" cy="562" r="2.1" fill="#e6e6e6" stroke="#5a5a5a" stroke-width="1.25"/>
<circle cx="444.4" cy="561.5" r="2.1" fill="#e6e6e6" stroke="#5a5a5a" stroke-width="1.25"/>
<circle cx="440.7" cy="558.5" r="2.1" fill="#e6e6e6" stroke="#5a5a5a" stroke-width="1.25"/>
<circle cx="434.6" cy="559.6" r="2.1" fill="#e6e6e6" stroke="#5a5a5a" stroke-width="1.25"/>
<circle cx="445.4" cy="555.4" r="2.1" fill="#e6e6e6" stroke="#5a5a5a" stroke-width="1.25"/>
<circle cx="438.6" cy="550.8" r="2.1" fill="#e6e6e6" stroke="#5a5a5a" stroke-width="1.25"/>
<circle cx="433.2" cy="549.6" r="2.1" fill="#e6e6e6" stroke="#5a5a5a" stroke-width="1.25"/>
<circle cx="446.6" cy="552.8" r="2.1" fill="#e6e6e6" stroke="#5a5a5a" stroke-width="1.25"/>
<circle cx="429.6" cy="554.8" r="2.1" fill="#e6e6e6" stroke="#5a5a5a" stroke-width="1.25"/>
<circle cx="436.2" cy="561.8" r="2.1" fill="#e6e6e6" stroke="#5a5a5a" stroke-width="1.25"/>
<circle cx="442.9" cy="556.2" r="2.1" fill="#e6e6e6" stroke="#5a5a5a" stroke-width="1.25"/>
<circle cx="448.2" cy="559.6" r="2.1" fill="#e6e6e6" stroke="#5a5a5a" stroke-width="1.25"/>
<circle cx="438.8" cy="554.6" r="2.1" fill="#e6e6e6" stroke="#5a5a5a" stroke-width="1.25"/>
<line x1="434" y1="555.2" x2="441" y2="555.2" stroke="#f21c1c" stroke-width="1.6" />
<rect x="426.7" y="554.4000000000001" width="1.6" height="1.6" fill="#f21c1c"/>
<rect x="447.7" y="554.4000000000001" width="1.6" height="1.6" fill="#f21c1c"/>
<rect x="436.7" y="549.0" width="1.6" height="1.6" fill="#f21c1c"/>
<rect x="436.7" y="559.7" width="1.6" height="1.6" fill="#f21c1c"/>
<text transform="translate(315.0,585.3) rotate(-45)" font-size="11.8" font-weight="normal" text-anchor="end" fill="#231815" stroke="#231815" stroke-width="0.3">Health</text>
<text transform="translate(346.9,585.3) rotate(-45)" font-size="11.8" font-weight="normal" text-anchor="end" fill="#231815" stroke="#231815" stroke-width="0.3">Lung cancer</text>
<text transform="translate(378.8,585.3) rotate(-45)" font-size="11.8" font-weight="normal" text-anchor="end" fill="#231815" stroke="#231815" stroke-width="0.3">Benign breast disease</text>
<text transform="translate(410.4,585.3) rotate(-45)" font-size="11.8" font-weight="normal" text-anchor="end" fill="#231815" stroke="#231815" stroke-width="0.3">ER<tspan font-size="7" dy="-4">+</tspan></text>
<text transform="translate(442.1,585.3) rotate(-45)" font-size="11.8" font-weight="normal" text-anchor="end" fill="#231815" stroke="#231815" stroke-width="0.3">Other breast cancer</text>
<text x="470.5" y="371.3" font-size="21.5" font-weight="bold" text-anchor="start" fill="#231815" >e</text>
<path d="M509.4,373.4 L680.5,373.4 L680.5,554.3 L509.4,554.3 Z" fill="none" stroke="#000" stroke-width="1.8"/>
<line x1="503.7" y1="554.3" x2="509.4" y2="554.3" stroke="#000" stroke-width="1.5" />
<text x="502.2" y="558.8" font-size="10.5" font-weight="bold" text-anchor="end" fill="#231815" >0</text>
<line x1="503.7" y1="518.15" x2="509.4" y2="518.15" stroke="#000" stroke-width="1.5" />
<text x="502.2" y="522.65" font-size="10.5" font-weight="bold" text-anchor="end" fill="#231815" >1</text>
<line x1="503.7" y1="482.0" x2="509.4" y2="482.0" stroke="#000" stroke-width="1.5" />
<text x="502.2" y="486.5" font-size="10.5" font-weight="bold" text-anchor="end" fill="#231815" >2</text>
<line x1="503.7" y1="445.85" x2="509.4" y2="445.85" stroke="#000" stroke-width="1.5" />
<text x="502.2" y="450.35" font-size="10.5" font-weight="bold" text-anchor="end" fill="#231815" >3</text>
<line x1="503.7" y1="409.7" x2="509.4" y2="409.7" stroke="#000" stroke-width="1.5" />
<text x="502.2" y="414.2" font-size="10.5" font-weight="bold" text-anchor="end" fill="#231815" >4</text>
<line x1="503.7" y1="373.55" x2="509.4" y2="373.55" stroke="#000" stroke-width="1.5" />
<text x="502.2" y="378.05" font-size="10.5" font-weight="bold" text-anchor="end" fill="#231815" >5</text>
<text transform="translate(491,462.6) rotate(-90)" font-size="14.6" font-weight="bold" text-anchor="middle" fill="#231815">Peak current <tspan font-weight="normal">(μ</tspan>A<tspan font-weight="normal">)</tspan></text>
<line x1="531.9" y1="554.3" x2="531.9" y2="559.5" stroke="#000" stroke-width="1.5" />
<line x1="563.5" y1="554.3" x2="563.5" y2="559.5" stroke="#000" stroke-width="1.5" />
<line x1="595.3" y1="554.3" x2="595.3" y2="559.5" stroke="#000" stroke-width="1.5" />
<line x1="627.1" y1="554.3" x2="627.1" y2="559.5" stroke="#000" stroke-width="1.5" />
<line x1="658.9" y1="554.3" x2="658.9" y2="559.5" stroke="#000" stroke-width="1.5" />
<text x="545" y="389.1" font-size="11.2" font-weight="bold" text-anchor="start" fill="#231815" >P = 1.24e-005</text>
<text x="560.8" y="417.0" font-size="11.2" font-weight="bold" text-anchor="start" fill="#231815" >P = 1.94e-006</text>
<text x="608.8" y="440.20000000000005" font-size="11.2" font-weight="bold" text-anchor="start" fill="#231815" >P = 9.17e-009</text>
<text x="576.6" y="464.0" font-size="11.2" font-weight="bold" text-anchor="start" fill="#231815" >P = 1.86e-009</text>
<line x1="532.2" y1="394.6" x2="627.3" y2="394.6" stroke="#231815" stroke-width="1.7" />
<line x1="563.5" y1="422.5" x2="627.3" y2="422.5" stroke="#231815" stroke-width="1.7" />
<line x1="627.3" y1="445.6" x2="658.8" y2="445.6" stroke="#231815" stroke-width="1.7" />
<line x1="595.4" y1="469.1" x2="627.3" y2="469.1" stroke="#231815" stroke-width="1.7" />
<line x1="521" y1="542" x2="543" y2="542" stroke="#f21c1c" stroke-width="1.5" />
<line x1="553" y1="541.5" x2="574" y2="541.5" stroke="#f21c1c" stroke-width="1.5" />
<line x1="585" y1="543.5" x2="606" y2="543.5" stroke="#f21c1c" stroke-width="1.5" />
<circle cx="531.8" cy="532.7" r="2.0" fill="#4fa0f5" stroke="#000" stroke-width="1.3"/>
<circle cx="529.4" cy="536.2" r="2.0" fill="#4fa0f5" stroke="#000" stroke-width="1.3"/>
<circle cx="533.8" cy="537.7" r="2.0" fill="#4fa0f5" stroke="#000" stroke-width="1.3"/>
<circle cx="525.4" cy="540.3" r="2.0" fill="#4fa0f5" stroke="#000" stroke-width="1.3"/>
<circle cx="536.4" cy="539.9" r="2.0" fill="#4fa0f5" stroke="#000" stroke-width="1.3"/>
<circle cx="540.8" cy="541.2" r="2.0" fill="#4fa0f5" stroke="#000" stroke-width="1.3"/>
<circle cx="529.8" cy="541.6" r="2.0" fill="#4fa0f5" stroke="#000" stroke-width="1.3"/>
<circle cx="533.8" cy="543" r="2.0" fill="#4fa0f5" stroke="#000" stroke-width="1.3"/>
<circle cx="523.3" cy="543.6" r="2.0" fill="#4fa0f5" stroke="#000" stroke-width="1.3"/>
<circle cx="527.2" cy="543.6" r="2.0" fill="#4fa0f5" stroke="#000" stroke-width="1.3"/>
<circle cx="538.6" cy="543" r="2.0" fill="#4fa0f5" stroke="#000" stroke-width="1.3"/>
<circle cx="531.8" cy="545.8" r="2.0" fill="#4fa0f5" stroke="#000" stroke-width="1.3"/>
<circle cx="536.2" cy="545.1" r="2.0" fill="#4fa0f5" stroke="#000" stroke-width="1.3"/>
<circle cx="540.6" cy="545.6" r="2.0" fill="#4fa0f5" stroke="#000" stroke-width="1.3"/>
<circle cx="568.4" cy="535.9" r="2.0" fill="#c8def5" stroke="#000" stroke-width="1.3"/>
<circle cx="558.7" cy="538.3" r="2.0" fill="#c8def5" stroke="#000" stroke-width="1.3"/>
<circle cx="572.7" cy="538.1" r="2.0" fill="#c8def5" stroke="#000" stroke-width="1.3"/>
<circle cx="554.8" cy="539.9" r="2.0" fill="#c8def5" stroke="#000" stroke-width="1.3"/>
<circle cx="562.7" cy="540.3" r="2.0" fill="#c8def5" stroke="#000" stroke-width="1.3"/>
<circle cx="568.4" cy="540.3" r="2.0" fill="#c8def5" stroke="#000" stroke-width="1.3"/>
<circle cx="557" cy="542.5" r="2.0" fill="#c8def5" stroke="#000" stroke-width="1.3"/>
<circle cx="564.4" cy="542.5" r="2.0" fill="#c8def5" stroke="#000" stroke-width="1.3"/>
<circle cx="572.3" cy="543.4" r="2.0" fill="#c8def5" stroke="#000" stroke-width="1.3"/>
<circle cx="554.8" cy="545.1" r="2.0" fill="#c8def5" stroke="#000" stroke-width="1.3"/>
<circle cx="560" cy="543.8" r="2.0" fill="#c8def5" stroke="#000" stroke-width="1.3"/>
<circle cx="566.6" cy="545.3" r="2.0" fill="#c8def5" stroke="#000" stroke-width="1.3"/>
<circle cx="562.7" cy="546.5" r="2.0" fill="#c8def5" stroke="#000" stroke-width="1.3"/>
<circle cx="570.5" cy="546" r="2.0" fill="#c8def5" stroke="#000" stroke-width="1.3"/>
<circle cx="586.9" cy="541" r="2.0" fill="#f5f1cf" stroke="#000" stroke-width="1.3"/>
<circle cx="596.6" cy="541.6" r="2.0" fill="#f5f1cf" stroke="#000" stroke-width="1.3"/>
<circle cx="601.9" cy="541.4" r="2.0" fill="#f5f1cf" stroke="#000" stroke-width="1.3"/>
<circle cx="589.7" cy="543.7" r="2.0" fill="#f5f1cf" stroke="#000" stroke-width="1.3"/>
<circle cx="593.9" cy="545.5" r="2.0" fill="#f5f1cf" stroke="#000" stroke-width="1.3"/>
<circle cx="599.4" cy="545.5" r="2.0" fill="#f5f1cf" stroke="#000" stroke-width="1.3"/>
<circle cx="604.3" cy="545.5" r="2.0" fill="#f5f1cf" stroke="#000" stroke-width="1.3"/>
<circle cx="586.9" cy="546.1" r="2.0" fill="#f5f1cf" stroke="#000" stroke-width="1.3"/>
<circle cx="596.6" cy="547.5" r="2.0" fill="#f5f1cf" stroke="#000" stroke-width="1.3"/>
<circle cx="602.2" cy="547.2" r="2.0" fill="#f5f1cf" stroke="#000" stroke-width="1.3"/>
<line x1="620" y1="495.5" x2="637" y2="495.5" stroke="#f21c1c" stroke-width="1.5" />
<line x1="622" y1="484.6" x2="633" y2="484.6" stroke="#f21c1c" stroke-width="1.5" />
<line x1="622" y1="505.8" x2="633" y2="505.8" stroke="#f21c1c" stroke-width="1.5" />
<circle cx="629.6" cy="476" r="2.0" fill="#f6b872" stroke="#000" stroke-width="1.3"/>
<circle cx="625" cy="477.5" r="2.0" fill="#f6b872" stroke="#000" stroke-width="1.3"/>
<circle cx="618.8" cy="482" r="2.0" fill="#f6b872" stroke="#000" stroke-width="1.3"/>
<circle cx="627.4" cy="483.1" r="2.0" fill="#f6b872" stroke="#000" stroke-width="1.3"/>
<circle cx="635.9" cy="484.2" r="2.0" fill="#f6b872" stroke="#000" stroke-width="1.3"/>
<circle cx="631.7" cy="485.4" r="2.0" fill="#f6b872" stroke="#000" stroke-width="1.3"/>
<circle cx="623.1" cy="488" r="2.0" fill="#f6b872" stroke="#000" stroke-width="1.3"/>
<circle cx="627.4" cy="488" r="2.0" fill="#f6b872" stroke="#000" stroke-width="1.3"/>
<circle cx="618.8" cy="491.4" r="2.0" fill="#f6b872" stroke="#000" stroke-width="1.3"/>
<circle cx="631.7" cy="490.6" r="2.0" fill="#f6b872" stroke="#000" stroke-width="1.3"/>
<circle cx="635.9" cy="492.9" r="2.0" fill="#f6b872" stroke="#000" stroke-width="1.3"/>
<circle cx="627.4" cy="493.6" r="2.0" fill="#f6b872" stroke="#000" stroke-width="1.3"/>
<circle cx="618.8" cy="496.2" r="2.0" fill="#f6b872" stroke="#000" stroke-width="1.3"/>
<circle cx="623.1" cy="495.9" r="2.0" fill="#f6b872" stroke="#000" stroke-width="1.3"/>
<circle cx="631.7" cy="498.1" r="2.0" fill="#f6b872" stroke="#000" stroke-width="1.3"/>
<circle cx="627.4" cy="498.9" r="2.0" fill="#f6b872" stroke="#000" stroke-width="1.3"/>
<circle cx="618.8" cy="502.1" r="2.0" fill="#f6b872" stroke="#000" stroke-width="1.3"/>
<circle cx="631.7" cy="502.2" r="2.0" fill="#f6b872" stroke="#000" stroke-width="1.3"/>
<circle cx="635.9" cy="504.5" r="2.0" fill="#f6b872" stroke="#000" stroke-width="1.3"/>
<circle cx="627.4" cy="504.3" r="2.0" fill="#f6b872" stroke="#000" stroke-width="1.3"/>
<circle cx="618.8" cy="506" r="2.0" fill="#f6b872" stroke="#000" stroke-width="1.3"/>
<circle cx="623.1" cy="508.8" r="2.0" fill="#f6b872" stroke="#000" stroke-width="1.3"/>
<circle cx="627.4" cy="509.1" r="2.0" fill="#f6b872" stroke="#000" stroke-width="1.3"/>
<circle cx="631.7" cy="509.1" r="2.0" fill="#f6b872" stroke="#000" stroke-width="1.3"/>
<circle cx="627.4" cy="515" r="2.0" fill="#f6b872" stroke="#000" stroke-width="1.3"/>
<line x1="649" y1="542" x2="670" y2="542" stroke="#f21c1c" stroke-width="1.5" />
<circle cx="650.5" cy="545.8" r="2.1" fill="#a9a9a9" stroke="#5e5e5e" stroke-width="1.25"/>
<circle cx="652.5" cy="541.5" r="2.1" fill="#a9a9a9" stroke="#5e5e5e" stroke-width="1.25"/>
<circle cx="655.5" cy="544" r="2.1" fill="#a9a9a9" stroke="#5e5e5e" stroke-width="1.25"/>
<circle cx="658.5" cy="541" r="2.1" fill="#a9a9a9" stroke="#5e5e5e" stroke-width="1.25"/>
<circle cx="661.5" cy="543.5" r="2.1" fill="#a9a9a9" stroke="#5e5e5e" stroke-width="1.25"/>
<circle cx="664.5" cy="540.5" r="2.1" fill="#a9a9a9" stroke="#5e5e5e" stroke-width="1.25"/>
<circle cx="667.5" cy="542.5" r="2.1" fill="#a9a9a9" stroke="#5e5e5e" stroke-width="1.25"/>
<circle cx="669" cy="545.5" r="2.1" fill="#a9a9a9" stroke="#5e5e5e" stroke-width="1.25"/>
<circle cx="666" cy="546" r="2.1" fill="#a9a9a9" stroke="#5e5e5e" stroke-width="1.25"/>
<circle cx="663" cy="546.5" r="2.1" fill="#a9a9a9" stroke="#5e5e5e" stroke-width="1.25"/>
<circle cx="660" cy="546.8" r="2.1" fill="#a9a9a9" stroke="#5e5e5e" stroke-width="1.25"/>
<circle cx="657" cy="546.5" r="2.1" fill="#a9a9a9" stroke="#5e5e5e" stroke-width="1.25"/>
<circle cx="654" cy="547" r="2.1" fill="#a9a9a9" stroke="#5e5e5e" stroke-width="1.25"/>
<circle cx="650.2" cy="542.8" r="2.1" fill="#a9a9a9" stroke="#5e5e5e" stroke-width="1.25"/>
<circle cx="653.2" cy="539.8" r="2.1" fill="#a9a9a9" stroke="#5e5e5e" stroke-width="1.25"/>
<circle cx="656.8" cy="539" r="2.1" fill="#a9a9a9" stroke="#5e5e5e" stroke-width="1.25"/>
<circle cx="660" cy="538.6" r="2.1" fill="#a9a9a9" stroke="#5e5e5e" stroke-width="1.25"/>
<circle cx="663.5" cy="538.3" r="2.1" fill="#a9a9a9" stroke="#5e5e5e" stroke-width="1.25"/>
<circle cx="666.8" cy="539.4" r="2.1" fill="#a9a9a9" stroke="#5e5e5e" stroke-width="1.25"/>
<circle cx="668.6" cy="541.5" r="2.1" fill="#a9a9a9" stroke="#5e5e5e" stroke-width="1.25"/>
<circle cx="662.5" cy="541.5" r="2.1" fill="#a9a9a9" stroke="#5e5e5e" stroke-width="1.25"/>
<circle cx="657.2" cy="543.8" r="2.1" fill="#a9a9a9" stroke="#5e5e5e" stroke-width="1.25"/>
<circle cx="664.5" cy="544" r="2.1" fill="#a9a9a9" stroke="#5e5e5e" stroke-width="1.25"/>
<circle cx="651.5" cy="546.6" r="2.1" fill="#a9a9a9" stroke="#5e5e5e" stroke-width="1.25"/>
<circle cx="658.4" cy="530.8" r="2.1" fill="#f8f8f8" stroke="#5e5e5e" stroke-width="1.25"/>
<circle cx="660.3" cy="534.3" r="2.1" fill="#f8f8f8" stroke="#5e5e5e" stroke-width="1.25"/>
<circle cx="654.3" cy="537.2" r="2.1" fill="#f8f8f8" stroke="#5e5e5e" stroke-width="1.25"/>
<line x1="658" y1="538.2" x2="662" y2="538.2" stroke="#f21c1c" stroke-width="1.6" />
<rect x="648.8000000000001" y="541.4000000000001" width="1.6" height="1.6" fill="#f21c1c"/>
<rect x="667.2" y="541.2" width="1.6" height="1.6" fill="#f21c1c"/>
<rect x="653.7" y="546.0" width="1.6" height="1.6" fill="#f21c1c"/>
<rect x="657.7" y="546.4000000000001" width="1.6" height="1.6" fill="#f21c1c"/>
<rect x="661.9000000000001" y="541.5" width="1.6" height="1.6" fill="#f21c1c"/>
<rect x="660.2" y="538.8000000000001" width="1.6" height="1.6" fill="#f21c1c"/>
<text transform="translate(536.4,570.2) rotate(-45)" font-size="11.8" font-weight="normal" text-anchor="end" fill="#231815" stroke="#231815" stroke-width="0.3">Health</text>
<text transform="translate(568.0,570.2) rotate(-45)" font-size="11.8" font-weight="normal" text-anchor="end" fill="#231815" stroke="#231815" stroke-width="0.3">Lung cancer</text>
<text transform="translate(599.8,570.2) rotate(-45)" font-size="11.8" font-weight="normal" text-anchor="end" fill="#231815" stroke="#231815" stroke-width="0.3">Benign breast disease</text>
<text transform="translate(631.6,570.2) rotate(-45)" font-size="11.8" font-weight="normal" text-anchor="end" fill="#231815" stroke="#231815" stroke-width="0.3">TNBC</text>
<text transform="translate(663.4,570.2) rotate(-45)" font-size="11.8" font-weight="normal" text-anchor="end" fill="#231815" stroke="#231815" stroke-width="0.3">Other breast cancer</text>
</svg>
</body></html>
